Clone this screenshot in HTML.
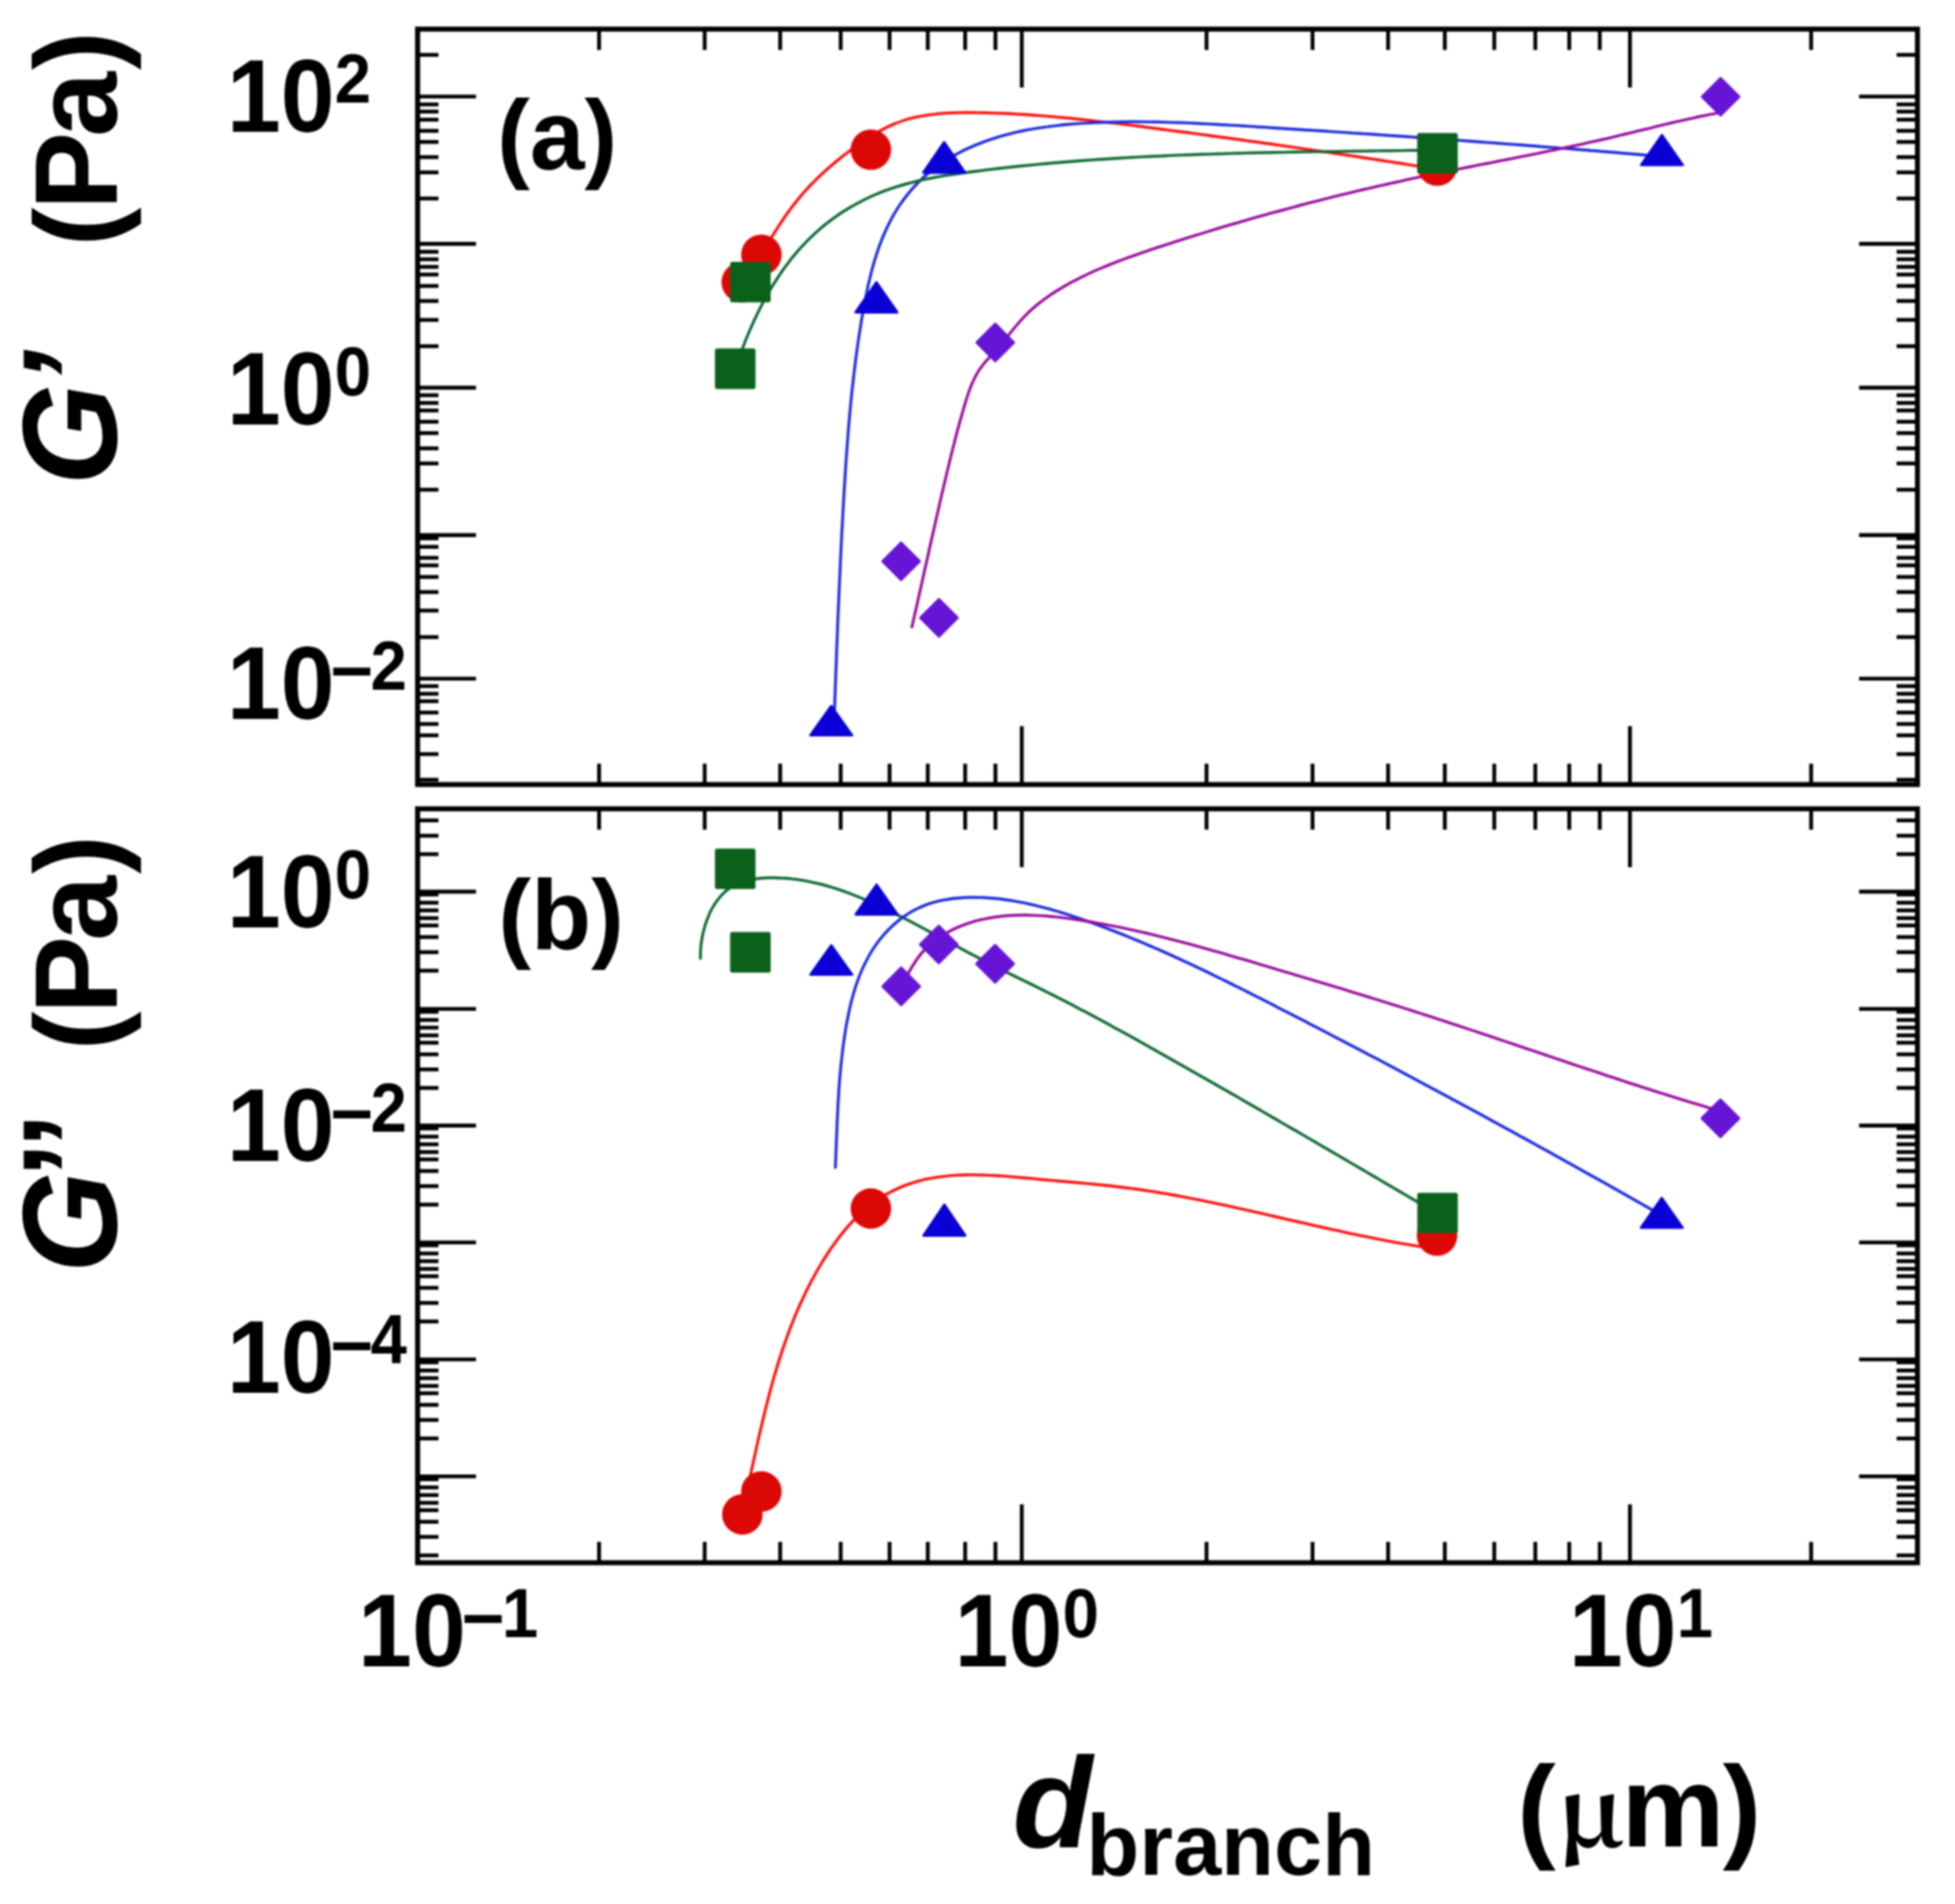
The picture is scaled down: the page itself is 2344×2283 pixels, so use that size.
<!DOCTYPE html>
<html><head><meta charset="utf-8"><title>G’ and G’’ vs d_branch</title>
<style>html,body{margin:0;padding:0;background:#fff;overflow:hidden}svg{display:block;filter:blur(0.8px)}</style></head>
<body>
<svg width="2344" height="2283" viewBox="0 0 2344 2283" role="img" aria-label="Storage and loss modulus versus branch diameter">
<rect width="2344" height="2283" fill="#fff"/>
<path d="M888.9,337.9C890.1,336.3 893.9,331.5 896.3,328.3C898.7,325.1 901.0,321.8 903.3,318.4C905.6,315.1 907.9,311.7 910.1,308.3C912.3,304.9 914.5,301.5 916.6,298.0C918.8,294.6 921.0,291.1 923.1,287.7C925.3,284.2 927.4,280.8 929.6,277.4C931.8,273.9 934.0,270.5 936.2,267.1C938.5,263.8 940.7,260.4 943.1,257.1C945.4,253.8 947.8,250.5 950.2,247.3C952.7,244.1 955.2,240.9 957.8,237.8C960.4,234.7 963.0,231.7 965.7,228.7C968.4,225.7 971.2,222.7 974.0,219.8C976.9,217.0 979.7,214.1 982.7,211.3C985.6,208.5 988.6,205.8 991.6,203.0C994.6,200.3 997.7,197.7 1000.8,195.1C1004.0,192.4 1007.1,189.9 1010.3,187.3C1013.5,184.8 1016.7,182.3 1020.0,179.8C1023.3,177.4 1026.6,175.0 1029.9,172.6C1033.3,170.3 1036.6,168.0 1040.1,165.8C1043.5,163.6 1046.9,161.4 1050.5,159.4C1054.0,157.4 1057.5,155.5 1061.1,153.7C1064.7,151.9 1068.4,150.2 1072.1,148.6C1075.8,147.1 1079.6,145.7 1083.4,144.5C1087.2,143.3 1091.1,142.2 1095.0,141.2C1099.0,140.3 1102.9,139.5 1106.9,138.8C1110.9,138.1 1114.9,137.5 1118.9,137.1C1122.9,136.6 1127.0,136.2 1131.0,135.9C1135.0,135.6 1139.1,135.4 1143.2,135.3C1147.2,135.1 1151.3,135.1 1155.4,135.0C1159.5,135.0 1163.6,135.0 1167.6,135.0C1171.7,135.1 1175.8,135.1 1179.9,135.2C1183.9,135.3 1188.0,135.4 1192.1,135.6C1196.1,135.7 1200.2,135.9 1204.3,136.0C1208.3,136.2 1212.4,136.4 1216.4,136.6C1220.5,136.8 1224.5,137.1 1228.6,137.3C1232.6,137.6 1236.7,137.9 1240.7,138.2C1244.8,138.5 1248.8,138.8 1252.9,139.1C1256.9,139.4 1260.9,139.8 1265.0,140.1C1269.0,140.5 1273.0,140.9 1277.1,141.3C1281.1,141.6 1285.1,142.0 1289.2,142.5C1293.2,142.9 1297.2,143.3 1301.3,143.7C1305.3,144.2 1309.3,144.6 1313.3,145.1C1317.4,145.5 1321.4,146.0 1325.4,146.5C1329.4,146.9 1333.5,147.4 1337.5,147.9C1341.5,148.4 1345.5,148.9 1349.6,149.4C1353.6,149.9 1357.6,150.4 1361.6,150.9C1365.6,151.4 1369.7,151.9 1373.7,152.5C1377.7,153.0 1381.7,153.5 1385.7,154.0C1389.8,154.6 1393.8,155.1 1397.8,155.6C1401.8,156.1 1405.8,156.7 1409.9,157.2C1413.9,157.7 1417.9,158.3 1421.9,158.8C1426.0,159.3 1430.0,159.9 1434.0,160.4C1438.0,160.9 1442.0,161.5 1446.1,162.0C1450.1,162.6 1454.1,163.1 1458.1,163.6C1462.1,164.2 1466.2,164.7 1470.2,165.3C1474.2,165.8 1478.2,166.4 1482.3,166.9C1486.3,167.5 1490.3,168.0 1494.3,168.6C1498.3,169.2 1502.4,169.7 1506.4,170.3C1510.4,170.8 1514.4,171.4 1518.4,172.0C1522.5,172.5 1526.5,173.1 1530.5,173.7C1534.5,174.3 1538.5,174.8 1542.6,175.4C1546.6,176.0 1550.6,176.6 1554.6,177.1C1558.6,177.7 1562.6,178.3 1566.7,178.9C1570.7,179.5 1574.7,180.1 1578.7,180.6C1582.7,181.2 1586.7,181.8 1590.7,182.4C1594.8,183.0 1598.8,183.6 1602.8,184.2C1606.8,184.8 1610.8,185.4 1614.8,186.0C1618.8,186.6 1622.9,187.2 1626.9,187.8C1630.9,188.4 1634.9,189.1 1638.9,189.7C1642.9,190.3 1646.9,190.9 1650.9,191.5C1654.9,192.1 1658.9,192.8 1662.9,193.4C1667.0,194.0 1671.0,194.6 1675.0,195.3C1679.0,195.9 1683.0,196.5 1687.0,197.2C1691.0,197.8 1695.0,198.5 1699.0,199.1C1703.0,199.7 1707.0,200.4 1711.0,201.0C1715.0,201.7 1721.0,202.7 1723.0,203.0" fill="none" stroke="#ff0a0a" stroke-width="3.4" stroke-linecap="butt" stroke-linejoin="round"/>
<path d="M1000.1,866.0C1000.2,864.0 1000.4,858.0 1000.5,853.9C1000.6,849.9 1000.8,845.9 1000.9,841.9C1001.1,837.9 1001.2,833.8 1001.4,829.8C1001.5,825.8 1001.6,821.8 1001.8,817.7C1001.9,813.7 1002.1,809.7 1002.2,805.6C1002.4,801.6 1002.5,797.6 1002.7,793.5C1002.8,789.5 1003.0,785.5 1003.1,781.4C1003.3,777.4 1003.4,773.4 1003.6,769.3C1003.7,765.3 1003.9,761.2 1004.1,757.2C1004.2,753.2 1004.4,749.1 1004.5,745.1C1004.7,741.0 1004.9,737.0 1005.0,733.0C1005.2,728.9 1005.4,724.9 1005.6,720.8C1005.7,716.8 1005.9,712.8 1006.1,708.7C1006.3,704.7 1006.4,700.6 1006.6,696.6C1006.8,692.5 1007.0,688.5 1007.2,684.5C1007.4,680.4 1007.5,676.4 1007.7,672.3C1007.9,668.3 1008.1,664.3 1008.3,660.2C1008.5,656.2 1008.7,652.1 1008.9,648.1C1009.1,644.1 1009.3,640.0 1009.5,636.0C1009.7,632.0 1010.0,627.9 1010.2,623.9C1010.4,619.9 1010.6,615.8 1010.8,611.8C1011.1,607.8 1011.3,603.7 1011.5,599.7C1011.8,595.7 1012.0,591.7 1012.2,587.6C1012.5,583.6 1012.7,579.6 1013.0,575.6C1013.2,571.6 1013.5,567.5 1013.7,563.5C1014.0,559.5 1014.2,555.5 1014.5,551.5C1014.8,547.4 1015.1,543.4 1015.4,539.4C1015.7,535.4 1016.0,531.4 1016.3,527.4C1016.6,523.4 1016.9,519.3 1017.2,515.3C1017.6,511.3 1017.9,507.3 1018.2,503.3C1018.6,499.3 1019.0,495.3 1019.3,491.3C1019.7,487.3 1020.1,483.3 1020.5,479.2C1020.9,475.2 1021.3,471.2 1021.7,467.2C1022.2,463.2 1022.6,459.2 1023.1,455.2C1023.5,451.2 1024.0,447.2 1024.5,443.2C1025.0,439.2 1025.5,435.2 1026.0,431.2C1026.5,427.2 1027.0,423.2 1027.6,419.1C1028.2,415.1 1028.7,411.1 1029.3,407.1C1029.9,403.1 1030.5,399.1 1031.2,395.1C1031.8,391.1 1032.5,387.1 1033.1,383.1C1033.8,379.1 1034.5,375.1 1035.2,371.0C1035.9,367.0 1036.7,363.0 1037.5,359.0C1038.2,355.0 1039.0,351.0 1039.9,347.1C1040.7,343.1 1041.6,339.1 1042.6,335.2C1043.5,331.2 1044.5,327.3 1045.5,323.4C1046.6,319.4 1047.7,315.6 1048.8,311.7C1050.0,307.8 1051.2,304.0 1052.5,300.2C1053.8,296.4 1055.2,292.6 1056.7,288.9C1058.1,285.2 1059.6,281.5 1061.3,277.8C1062.9,274.2 1064.6,270.6 1066.4,267.0C1068.2,263.5 1070.1,260.0 1072.1,256.5C1074.1,253.1 1076.2,249.7 1078.4,246.4C1080.7,243.0 1083.0,239.8 1085.5,236.6C1087.9,233.4 1090.5,230.2 1093.2,227.1C1095.8,224.1 1098.6,221.1 1101.5,218.2C1104.4,215.3 1107.4,212.5 1110.4,209.9C1113.5,207.2 1116.7,204.6 1119.9,202.1C1123.1,199.7 1126.5,197.3 1129.8,195.0C1133.2,192.8 1136.7,190.6 1140.2,188.6C1143.7,186.5 1147.2,184.5 1150.8,182.7C1154.4,180.8 1158.1,179.0 1161.8,177.4C1165.5,175.7 1169.2,174.1 1173.0,172.6C1176.7,171.1 1180.5,169.7 1184.3,168.3C1188.1,167.0 1191.9,165.8 1195.8,164.6C1199.6,163.4 1203.5,162.3 1207.4,161.3C1211.3,160.3 1215.2,159.3 1219.1,158.4C1223.0,157.5 1227.0,156.7 1230.9,155.9C1234.9,155.2 1238.8,154.5 1242.8,153.8C1246.8,153.2 1250.8,152.6 1254.8,152.1C1258.8,151.5 1262.8,151.0 1266.8,150.6C1270.8,150.1 1274.8,149.7 1278.8,149.3C1282.9,149.0 1286.9,148.7 1290.9,148.4C1294.9,148.1 1299.0,147.8 1303.0,147.6C1307.1,147.3 1311.1,147.1 1315.1,147.0C1319.2,146.8 1323.2,146.6 1327.2,146.5C1331.3,146.4 1335.3,146.3 1339.3,146.2C1343.4,146.1 1347.4,146.1 1351.4,146.0C1355.5,146.0 1359.5,146.0 1363.5,146.0C1367.6,146.0 1371.6,146.0 1375.6,146.1C1379.7,146.1 1383.7,146.2 1387.8,146.3C1391.8,146.4 1395.8,146.5 1399.9,146.6C1403.9,146.7 1407.9,146.8 1412.0,147.0C1416.0,147.1 1420.0,147.3 1424.1,147.4C1428.1,147.6 1432.1,147.8 1436.2,148.0C1440.2,148.2 1444.2,148.4 1448.3,148.6C1452.3,148.8 1456.3,149.0 1460.4,149.2C1464.4,149.5 1468.5,149.7 1472.5,149.9C1476.5,150.2 1480.6,150.4 1484.6,150.6C1488.6,150.9 1492.7,151.1 1496.7,151.4C1500.7,151.6 1504.8,151.9 1508.8,152.2C1512.8,152.4 1516.9,152.7 1520.9,152.9C1524.9,153.2 1528.9,153.4 1533.0,153.7C1537.0,153.9 1541.0,154.2 1545.1,154.5C1549.1,154.7 1553.1,155.0 1557.2,155.2C1561.2,155.5 1565.2,155.8 1569.3,156.0C1573.3,156.3 1577.3,156.5 1581.3,156.8C1585.4,157.1 1589.4,157.3 1593.4,157.6C1597.5,157.9 1601.5,158.1 1605.5,158.4C1609.6,158.7 1613.6,158.9 1617.6,159.2C1621.6,159.5 1625.7,159.7 1629.7,160.0C1633.7,160.3 1637.8,160.5 1641.8,160.8C1645.8,161.1 1649.8,161.4 1653.9,161.6C1657.9,161.9 1661.9,162.2 1665.9,162.5C1670.0,162.7 1674.0,163.0 1678.0,163.3C1682.1,163.6 1686.1,163.8 1690.1,164.1C1694.1,164.4 1698.2,164.7 1702.2,165.0C1706.2,165.3 1710.2,165.5 1714.3,165.8C1718.3,166.1 1722.3,166.4 1726.3,166.7C1730.4,167.0 1734.4,167.2 1738.4,167.5C1742.4,167.8 1746.5,168.1 1750.5,168.4C1754.5,168.7 1758.5,169.0 1762.6,169.3C1766.6,169.6 1770.6,169.9 1774.6,170.2C1778.7,170.5 1782.7,170.8 1786.7,171.1C1790.7,171.4 1794.8,171.7 1798.8,172.0C1802.8,172.3 1806.8,172.6 1810.9,172.9C1814.9,173.2 1818.9,173.5 1822.9,173.8C1827.0,174.1 1831.0,174.4 1835.0,174.7C1839.0,175.0 1843.1,175.3 1847.1,175.7C1851.1,176.0 1855.1,176.3 1859.2,176.6C1863.2,176.9 1867.2,177.2 1871.2,177.6C1875.3,177.9 1879.3,178.2 1883.3,178.5C1887.3,178.8 1891.4,179.2 1895.4,179.5C1899.4,179.8 1903.4,180.1 1907.5,180.5C1911.5,180.8 1915.5,181.1 1919.5,181.5C1923.6,181.8 1927.6,182.1 1931.6,182.5C1935.6,182.8 1939.7,183.1 1943.7,183.5C1947.7,183.8 1951.7,184.2 1955.8,184.5C1959.8,184.8 1963.8,185.2 1967.8,185.5C1971.9,185.9 1975.9,186.2 1979.9,186.6C1984.0,186.9 1990.0,187.5 1992.0,187.6" fill="none" stroke="#1a28dc" stroke-width="3.4" stroke-linecap="butt" stroke-linejoin="round"/>
<path d="M881.9,441.9C882.5,440.0 884.3,434.4 885.6,430.7C886.9,426.9 888.3,423.1 889.7,419.4C891.1,415.6 892.5,411.8 894.0,408.0C895.5,404.3 897.1,400.5 898.7,396.7C900.3,393.0 902.0,389.2 903.7,385.5C905.4,381.7 907.2,378.0 909.0,374.3C910.8,370.6 912.7,366.9 914.6,363.3C916.6,359.6 918.6,356.0 920.6,352.4C922.7,348.8 924.8,345.2 926.9,341.7C929.1,338.2 931.4,334.7 933.6,331.3C935.9,327.8 938.3,324.4 940.7,321.1C943.1,317.8 945.6,314.5 948.1,311.2C950.7,308.0 953.3,304.8 956.0,301.7C958.6,298.6 961.4,295.6 964.2,292.6C967.0,289.6 969.8,286.7 972.8,283.9C975.7,281.1 978.7,278.3 981.8,275.7C984.8,273.0 987.9,270.4 991.1,267.9C994.3,265.4 997.6,263.0 1000.9,260.6C1004.2,258.3 1007.5,256.0 1010.9,253.8C1014.3,251.6 1017.8,249.5 1021.3,247.5C1024.8,245.5 1028.4,243.5 1032.0,241.7C1035.6,239.8 1039.2,238.0 1042.9,236.3C1046.5,234.6 1050.3,233.0 1054.0,231.5C1057.8,230.0 1061.5,228.5 1065.4,227.2C1069.2,225.8 1073.0,224.6 1076.9,223.4C1080.8,222.2 1084.7,221.1 1088.6,220.0C1092.5,218.9 1096.4,218.0 1100.4,217.0C1104.4,216.1 1108.4,215.3 1112.4,214.4C1116.4,213.6 1120.4,212.9 1124.4,212.1C1128.4,211.4 1132.5,210.7 1136.5,210.1C1140.6,209.4 1144.6,208.8 1148.7,208.2C1152.8,207.6 1156.8,207.1 1160.9,206.5C1165.0,206.0 1169.1,205.5 1173.1,205.0C1177.2,204.4 1181.3,203.9 1185.4,203.4C1189.4,202.9 1193.5,202.5 1197.6,202.0C1201.7,201.5 1205.7,201.1 1209.8,200.6C1213.9,200.2 1218.0,199.7 1222.0,199.3C1226.1,198.9 1230.2,198.5 1234.2,198.1C1238.3,197.7 1242.4,197.3 1246.5,196.9C1250.5,196.5 1254.6,196.1 1258.7,195.8C1262.7,195.4 1266.8,195.1 1270.9,194.7C1275.0,194.4 1279.0,194.0 1283.1,193.7C1287.2,193.4 1291.2,193.1 1295.3,192.8C1299.4,192.5 1303.5,192.2 1307.5,191.9C1311.6,191.6 1315.7,191.3 1319.8,191.0C1323.8,190.8 1327.9,190.5 1332.0,190.2C1336.0,190.0 1340.1,189.7 1344.2,189.5C1348.3,189.3 1352.3,189.0 1356.4,188.8C1360.5,188.6 1364.5,188.4 1368.6,188.1C1372.7,187.9 1376.8,187.7 1380.8,187.5C1384.9,187.3 1389.0,187.1 1393.0,187.0C1397.1,186.8 1401.2,186.6 1405.3,186.4C1409.3,186.2 1413.4,186.1 1417.5,185.9C1421.6,185.8 1425.6,185.6 1429.7,185.5C1433.8,185.3 1437.8,185.2 1441.9,185.0C1446.0,184.9 1450.1,184.8 1454.1,184.6C1458.2,184.5 1462.3,184.4 1466.4,184.3C1470.4,184.1 1474.5,184.0 1478.6,183.9C1482.7,183.8 1486.7,183.7 1490.8,183.6C1494.9,183.5 1499.0,183.4 1503.0,183.3C1507.1,183.2 1511.2,183.1 1515.3,183.0C1519.4,183.0 1523.4,182.9 1527.5,182.8C1531.6,182.7 1535.7,182.6 1539.7,182.6C1543.8,182.5 1547.9,182.4 1552.0,182.3C1556.1,182.3 1560.1,182.2 1564.2,182.1C1568.3,182.1 1572.4,182.0 1576.5,181.9C1580.5,181.9 1584.6,181.8 1588.7,181.8C1592.8,181.7 1596.9,181.6 1600.9,181.6C1605.0,181.5 1609.1,181.5 1613.2,181.4C1617.3,181.4 1621.4,181.3 1625.4,181.3C1629.5,181.2 1633.6,181.1 1637.7,181.1C1641.8,181.0 1645.9,181.0 1650.0,180.9C1654.0,180.9 1658.1,180.8 1662.2,180.8C1666.3,180.7 1670.4,180.7 1674.5,180.6C1678.6,180.6 1682.7,180.5 1686.8,180.4C1690.8,180.4 1694.9,180.3 1699.0,180.3C1703.1,180.2 1707.2,180.2 1711.3,180.1C1715.4,180.0 1721.5,179.9 1723.6,179.9" fill="none" stroke="#0a6830" stroke-width="3.4" stroke-linecap="butt" stroke-linejoin="round"/>
<path d="M1093.1,753.1C1093.5,751.1 1094.9,745.2 1095.8,741.2C1096.7,737.3 1097.6,733.3 1098.5,729.3C1099.4,725.4 1100.2,721.4 1101.1,717.4C1102.0,713.5 1102.9,709.5 1103.8,705.5C1104.7,701.6 1105.6,697.6 1106.5,693.6C1107.3,689.7 1108.2,685.7 1109.1,681.7C1110.0,677.7 1110.9,673.8 1111.8,669.8C1112.6,665.8 1113.5,661.9 1114.4,657.9C1115.3,653.9 1116.2,649.9 1117.1,646.0C1118.0,642.0 1118.9,638.0 1119.8,634.1C1120.7,630.1 1121.6,626.1 1122.5,622.2C1123.4,618.2 1124.3,614.2 1125.2,610.3C1126.1,606.3 1127.0,602.3 1127.9,598.4C1128.8,594.4 1129.7,590.5 1130.7,586.5C1131.6,582.5 1132.5,578.6 1133.5,574.6C1134.4,570.7 1135.4,566.7 1136.3,562.8C1137.3,558.8 1138.2,554.9 1139.2,551.0C1140.1,547.0 1141.1,543.1 1142.1,539.1C1143.1,535.2 1144.1,531.3 1145.1,527.3C1146.1,523.4 1147.1,519.5 1148.2,515.5C1149.2,511.6 1150.3,507.7 1151.4,503.7C1152.5,499.8 1153.6,495.9 1154.8,491.9C1155.9,488.0 1157.0,484.0 1158.3,480.1C1159.5,476.2 1160.7,472.3 1162.1,468.5C1163.5,464.6 1165.0,460.8 1166.7,457.2C1168.4,453.5 1170.2,449.9 1172.2,446.5C1174.3,443.1 1176.6,439.8 1179.1,436.7C1181.6,433.5 1184.4,430.6 1187.1,427.6C1189.8,424.6 1192.7,421.7 1195.4,418.6C1198.2,415.5 1200.8,412.4 1203.4,409.2C1206.0,406.0 1208.5,402.7 1211.1,399.5C1213.7,396.3 1216.2,393.1 1218.9,390.0C1221.5,386.9 1224.2,383.8 1227.0,380.8C1229.8,377.9 1232.7,375.0 1235.6,372.3C1238.6,369.6 1241.7,367.0 1244.8,364.4C1248.0,361.9 1251.2,359.4 1254.5,357.1C1257.8,354.7 1261.1,352.5 1264.5,350.3C1267.9,348.1 1271.4,346.0 1274.9,344.0C1278.4,341.9 1281.9,339.9 1285.5,338.0C1289.1,336.1 1292.7,334.3 1296.3,332.5C1300.0,330.7 1303.6,328.9 1307.3,327.2C1311.0,325.5 1314.7,323.9 1318.4,322.3C1322.2,320.7 1325.9,319.1 1329.7,317.6C1333.5,316.1 1337.3,314.6 1341.1,313.1C1344.9,311.7 1348.7,310.3 1352.5,308.9C1356.3,307.5 1360.2,306.1 1364.0,304.8C1367.9,303.4 1371.7,302.1 1375.6,300.8C1379.5,299.5 1383.4,298.2 1387.2,296.9C1391.1,295.7 1395.0,294.4 1398.9,293.2C1402.7,291.9 1406.6,290.7 1410.5,289.4C1414.4,288.2 1418.3,286.9 1422.2,285.7C1426.1,284.5 1429.9,283.3 1433.8,282.1C1437.7,280.9 1441.6,279.7 1445.5,278.5C1449.4,277.3 1453.3,276.1 1457.2,274.9C1461.1,273.8 1465.0,272.6 1468.9,271.4C1472.8,270.3 1476.7,269.1 1480.6,268.0C1484.5,266.8 1488.4,265.7 1492.3,264.6C1496.2,263.5 1500.1,262.3 1504.0,261.2C1508.0,260.1 1511.9,259.0 1515.8,257.9C1519.7,256.8 1523.6,255.7 1527.5,254.7C1531.4,253.6 1535.4,252.5 1539.3,251.5C1543.2,250.4 1547.1,249.3 1551.1,248.3C1555.0,247.3 1558.9,246.2 1562.8,245.2C1566.8,244.2 1570.7,243.1 1574.6,242.1C1578.6,241.1 1582.5,240.1 1586.4,239.1C1590.4,238.1 1594.3,237.1 1598.2,236.1C1602.2,235.2 1606.1,234.2 1610.1,233.2C1614.0,232.3 1618.0,231.3 1621.9,230.4C1625.9,229.4 1629.8,228.5 1633.8,227.5C1637.7,226.6 1641.7,225.7 1645.6,224.8C1649.6,223.9 1653.5,223.0 1657.5,222.1C1661.5,221.2 1665.4,220.3 1669.4,219.4C1673.4,218.5 1677.3,217.6 1681.3,216.8C1685.3,215.9 1689.3,215.0 1693.2,214.2C1697.2,213.3 1701.2,212.5 1705.2,211.7C1709.1,210.8 1713.1,210.0 1717.1,209.2C1721.1,208.4 1725.1,207.5 1729.1,206.7C1733.0,205.9 1737.0,205.1 1741.0,204.3C1745.0,203.5 1749.0,202.7 1753.0,201.9C1757.0,201.1 1761.0,200.3 1765.0,199.5C1769.0,198.7 1772.9,197.9 1776.9,197.2C1780.9,196.4 1784.9,195.6 1788.9,194.8C1792.9,194.0 1796.9,193.2 1800.9,192.4C1804.9,191.6 1808.9,190.9 1812.9,190.1C1816.9,189.3 1820.9,188.5 1824.9,187.7C1828.8,186.9 1832.8,186.1 1836.8,185.3C1840.8,184.5 1844.8,183.7 1848.8,182.9C1852.8,182.0 1856.8,181.2 1860.8,180.4C1864.7,179.6 1868.7,178.8 1872.7,177.9C1876.7,177.1 1880.7,176.2 1884.6,175.4C1888.6,174.5 1892.6,173.7 1896.6,172.8C1900.5,172.0 1904.5,171.1 1908.5,170.2C1912.5,169.3 1916.4,168.4 1920.4,167.5C1924.3,166.6 1928.3,165.7 1932.3,164.8C1936.2,163.8 1940.2,162.9 1944.1,161.9C1948.1,161.0 1952.0,160.0 1956.0,159.1C1959.9,158.1 1963.9,157.1 1967.8,156.2C1971.8,155.2 1975.7,154.2 1979.7,153.3C1983.6,152.3 1987.6,151.3 1991.5,150.4C1995.5,149.4 1999.4,148.5 2003.4,147.5C2007.3,146.6 2011.3,145.7 2015.2,144.8C2019.2,143.9 2023.2,143.0 2027.1,142.1C2031.1,141.2 2035.1,140.3 2039.1,139.5C2043.1,138.7 2047.0,137.9 2051.0,137.1C2055.0,136.3 2061.1,135.2 2063.1,134.8" fill="none" stroke="#990a9c" stroke-width="3.4" stroke-linecap="butt" stroke-linejoin="round"/>
<circle cx="889.4" cy="338.4" r="24.3" fill="#dc0806"/>
<circle cx="912.9" cy="305.5" r="24.3" fill="#dc0806"/>
<circle cx="1044.2" cy="179.5" r="24.3" fill="#dc0806"/>
<circle cx="1723.3" cy="198.5" r="24.3" fill="#dc0806"/>
<rect x="857.2" y="417.8" width="48.6" height="48.6" rx="2.5" fill="#0a611a"/>
<rect x="875.4" y="313.9" width="48.6" height="48.6" rx="2.5" fill="#0a611a"/>
<rect x="1699.2" y="159.5" width="48.6" height="48.6" rx="2.5" fill="#0a611a"/>
<path d="M1132.0,170.6 L1156.9,206.9 L1107.1,206.9 Z" fill="#0a00d6" stroke="#0a00d6" stroke-width="3" stroke-linejoin="round"/>
<path d="M1050.8,338.6 L1075.7,374.4 L1025.9,374.4 Z" fill="#0a00d6" stroke="#0a00d6" stroke-width="3" stroke-linejoin="round"/>
<path d="M996.6,846.6 L1021.5,881.6 L971.7,881.6 Z" fill="#0a00d6" stroke="#0a00d6" stroke-width="3" stroke-linejoin="round"/>
<path d="M1992.6,162.1 L2017.5,197.8 L1967.7,197.8 Z" fill="#0a00d6" stroke="#0a00d6" stroke-width="3" stroke-linejoin="round"/>
<path d="M1193.3,388.4 L1215.6,410.7 L1193.3,433.0 L1171.0,410.7 Z" fill="#6614d6" stroke="#6614d6" stroke-width="3" stroke-linejoin="round"/>
<path d="M1080.4,650.7 L1102.7,673 L1080.4,695.3 L1058.1000000000001,673 Z" fill="#6614d6" stroke="#6614d6" stroke-width="3" stroke-linejoin="round"/>
<path d="M1125.8,718.5 L1148.1,740.8 L1125.8,763.0999999999999 L1103.5,740.8 Z" fill="#6614d6" stroke="#6614d6" stroke-width="3" stroke-linejoin="round"/>
<path d="M2063,93.7 L2085.3,116 L2063,138.3 L2040.7,116 Z" fill="#6614d6" stroke="#6614d6" stroke-width="3" stroke-linejoin="round"/>
<path d="M889.2,1815.7C889.7,1813.8 891.0,1807.9 891.9,1804.0C892.8,1800.1 893.7,1796.1 894.6,1792.2C895.4,1788.3 896.3,1784.3 897.2,1780.4C898.1,1776.4 898.9,1772.5 899.8,1768.5C900.7,1764.6 901.5,1760.6 902.4,1756.7C903.3,1752.8 904.1,1748.8 905.0,1744.9C905.9,1740.9 906.7,1737.0 907.6,1733.0C908.5,1729.1 909.4,1725.1 910.3,1721.2C911.2,1717.2 912.1,1713.3 913.1,1709.3C914.0,1705.4 914.9,1701.5 915.9,1697.5C916.8,1693.6 917.8,1689.7 918.8,1685.8C919.8,1681.8 920.8,1677.9 921.8,1674.0C922.8,1670.1 923.9,1666.2 925.0,1662.3C926.0,1658.4 927.1,1654.5 928.2,1650.6C929.4,1646.7 930.5,1642.9 931.7,1639.0C932.8,1635.1 934.0,1631.3 935.3,1627.4C936.5,1623.6 937.8,1619.7 939.1,1615.9C940.4,1612.1 941.7,1608.3 943.1,1604.5C944.4,1600.7 945.8,1596.9 947.3,1593.1C948.7,1589.3 950.2,1585.5 951.7,1581.8C953.2,1578.0 954.8,1574.3 956.4,1570.6C958.0,1566.9 959.7,1563.2 961.4,1559.5C963.1,1555.8 964.8,1552.1 966.6,1548.4C968.4,1544.8 970.2,1541.1 972.1,1537.5C974.0,1533.9 976.0,1530.3 978.0,1526.7C980.0,1523.1 982.1,1519.5 984.2,1516.0C986.3,1512.4 988.5,1508.9 990.7,1505.5C992.9,1502.0 995.2,1498.6 997.6,1495.2C999.9,1491.8 1002.3,1488.5 1004.8,1485.2C1007.3,1482.0 1009.8,1478.8 1012.4,1475.6C1015.0,1472.5 1017.7,1469.4 1020.4,1466.5C1023.2,1463.5 1026.0,1460.6 1028.8,1457.8C1031.7,1455.1 1034.7,1452.4 1037.7,1449.8C1040.7,1447.2 1043.8,1444.7 1047.0,1442.4C1050.1,1440.0 1053.4,1437.8 1056.7,1435.6C1060.0,1433.5 1063.4,1431.6 1066.9,1429.7C1070.3,1427.9 1073.9,1426.2 1077.5,1424.6C1081.1,1423.0 1084.8,1421.5 1088.5,1420.2C1092.2,1418.9 1096.0,1417.7 1099.8,1416.6C1103.6,1415.5 1107.5,1414.6 1111.4,1413.7C1115.3,1412.9 1119.2,1412.2 1123.2,1411.6C1127.1,1411.0 1131.1,1410.5 1135.1,1410.1C1139.1,1409.6 1143.1,1409.3 1147.2,1409.1C1151.2,1408.9 1155.3,1408.8 1159.4,1408.7C1163.5,1408.6 1167.6,1408.6 1171.7,1408.7C1175.8,1408.7 1179.9,1408.9 1184.0,1409.1C1188.1,1409.2 1192.3,1409.5 1196.4,1409.7C1200.5,1410.0 1204.7,1410.3 1208.8,1410.6C1212.9,1410.9 1217.1,1411.3 1221.2,1411.7C1225.3,1412.0 1229.5,1412.4 1233.6,1412.8C1237.7,1413.2 1241.8,1413.6 1245.9,1414.0C1250.0,1414.3 1254.1,1414.7 1258.1,1415.1C1262.2,1415.5 1266.2,1415.8 1270.3,1416.2C1274.3,1416.5 1278.4,1416.9 1282.4,1417.2C1286.4,1417.6 1290.4,1417.9 1294.4,1418.3C1298.4,1418.7 1302.4,1419.0 1306.4,1419.4C1310.4,1419.8 1314.4,1420.2 1318.4,1420.6C1322.4,1421.0 1326.3,1421.4 1330.3,1421.8C1334.3,1422.3 1338.3,1422.7 1342.2,1423.2C1346.2,1423.7 1350.2,1424.2 1354.1,1424.7C1358.1,1425.2 1362.1,1425.8 1366.0,1426.3C1370.0,1426.9 1374.0,1427.5 1377.9,1428.1C1381.9,1428.7 1385.9,1429.3 1389.8,1430.0C1393.8,1430.7 1397.8,1431.3 1401.7,1432.0C1405.7,1432.7 1409.7,1433.4 1413.6,1434.2C1417.6,1434.9 1421.5,1435.6 1425.5,1436.4C1429.5,1437.2 1433.4,1437.9 1437.4,1438.7C1441.4,1439.5 1445.3,1440.3 1449.3,1441.1C1453.3,1441.9 1457.2,1442.8 1461.2,1443.6C1465.2,1444.5 1469.1,1445.3 1473.1,1446.2C1477.0,1447.0 1481.0,1447.9 1485.0,1448.8C1488.9,1449.6 1492.9,1450.5 1496.9,1451.4C1500.8,1452.3 1504.8,1453.2 1508.8,1454.1C1512.7,1455.0 1516.7,1455.9 1520.6,1456.8C1524.6,1457.7 1528.6,1458.6 1532.5,1459.5C1536.5,1460.4 1540.5,1461.4 1544.4,1462.3C1548.4,1463.2 1552.4,1464.1 1556.3,1465.0C1560.3,1465.9 1564.2,1466.8 1568.2,1467.7C1572.2,1468.6 1576.1,1469.5 1580.1,1470.4C1584.1,1471.3 1588.0,1472.2 1592.0,1473.1C1596.0,1474.0 1599.9,1474.8 1603.9,1475.7C1607.8,1476.6 1611.8,1477.4 1615.8,1478.3C1619.7,1479.1 1623.7,1480.0 1627.7,1480.8C1631.6,1481.6 1635.6,1482.4 1639.6,1483.2C1643.5,1484.0 1647.5,1484.8 1651.5,1485.6C1655.4,1486.4 1659.4,1487.2 1663.4,1487.9C1667.3,1488.6 1671.3,1489.4 1675.3,1490.1C1679.2,1490.8 1683.2,1491.5 1687.2,1492.2C1691.1,1492.8 1695.1,1493.5 1699.1,1494.1C1703.0,1494.8 1707.0,1495.4 1711.0,1496.0C1714.9,1496.6 1720.9,1497.4 1722.9,1497.7" fill="none" stroke="#ff0a0a" stroke-width="3.4" stroke-linecap="butt" stroke-linejoin="round"/>
<path d="M839.8,1150.6C839.8,1148.7 839.8,1142.8 840.0,1138.7C840.3,1134.7 840.8,1130.5 841.5,1126.3C842.2,1122.2 843.1,1118.0 844.2,1113.9C845.2,1109.8 846.5,1105.7 848.1,1101.8C849.6,1097.8 851.3,1093.9 853.2,1090.3C855.2,1086.7 857.3,1083.1 859.7,1079.9C862.1,1076.7 864.6,1073.6 867.5,1070.9C870.3,1068.2 873.3,1065.8 876.5,1063.8C879.8,1061.7 883.3,1060.0 886.9,1058.6C890.5,1057.2 894.3,1056.1 898.2,1055.2C902.1,1054.3 906.1,1053.7 910.2,1053.2C914.2,1052.8 918.4,1052.6 922.5,1052.5C926.6,1052.4 930.8,1052.5 934.9,1052.7C939.0,1052.8 943.1,1053.1 947.2,1053.5C951.2,1054.0 955.3,1054.5 959.3,1055.1C963.3,1055.7 967.3,1056.4 971.3,1057.3C975.3,1058.1 979.2,1059.0 983.2,1060.0C987.1,1061.0 991.0,1062.1 994.9,1063.2C998.8,1064.4 1002.7,1065.6 1006.6,1066.9C1010.4,1068.2 1014.3,1069.6 1018.1,1071.0C1021.9,1072.5 1025.7,1074.0 1029.5,1075.5C1033.3,1077.0 1037.0,1078.6 1040.8,1080.3C1044.5,1081.9 1048.2,1083.6 1051.9,1085.3C1055.6,1087.0 1059.3,1088.8 1063.0,1090.6C1066.7,1092.3 1070.4,1094.1 1074.0,1096.0C1077.6,1097.8 1081.3,1099.6 1084.9,1101.5C1088.5,1103.3 1092.1,1105.2 1095.7,1107.1C1099.3,1109.0 1102.9,1110.9 1106.4,1112.8C1110.0,1114.6 1113.6,1116.6 1117.1,1118.5C1120.7,1120.4 1124.2,1122.3 1127.8,1124.2C1131.3,1126.1 1134.9,1128.0 1138.4,1130.0C1142.0,1131.9 1145.5,1133.8 1149.1,1135.7C1152.6,1137.6 1156.2,1139.5 1159.7,1141.4C1163.3,1143.3 1166.8,1145.2 1170.4,1147.1C1174.0,1149.0 1177.6,1150.9 1181.1,1152.7C1184.7,1154.6 1188.3,1156.4 1191.9,1158.3C1195.6,1160.1 1199.2,1161.9 1202.8,1163.7C1206.5,1165.6 1210.1,1167.4 1213.8,1169.1C1217.4,1170.9 1221.1,1172.7 1224.8,1174.5C1228.4,1176.3 1232.1,1178.1 1235.8,1179.9C1239.4,1181.7 1243.1,1183.5 1246.7,1185.3C1250.4,1187.1 1254.0,1188.9 1257.7,1190.7C1261.3,1192.5 1264.9,1194.4 1268.6,1196.2C1272.2,1198.1 1275.8,1199.9 1279.4,1201.8C1283.0,1203.7 1286.6,1205.5 1290.2,1207.4C1293.8,1209.3 1297.4,1211.2 1301.0,1213.1C1304.6,1215.0 1308.2,1216.9 1311.7,1218.8C1315.3,1220.7 1318.9,1222.7 1322.4,1224.6C1326.0,1226.5 1329.6,1228.5 1333.1,1230.4C1336.7,1232.3 1340.3,1234.3 1343.8,1236.2C1347.4,1238.2 1350.9,1240.2 1354.4,1242.1C1358.0,1244.1 1361.5,1246.0 1365.1,1248.0C1368.6,1250.0 1372.2,1252.0 1375.7,1253.9C1379.2,1255.9 1382.8,1257.9 1386.3,1259.9C1389.8,1261.9 1393.4,1263.9 1396.9,1265.9C1400.4,1267.9 1403.9,1269.9 1407.5,1271.9C1411.0,1273.9 1414.5,1275.9 1418.1,1277.9C1421.6,1279.9 1425.1,1281.9 1428.6,1283.9C1432.2,1285.9 1435.7,1287.9 1439.2,1289.9C1442.7,1291.9 1446.2,1293.9 1449.8,1295.9C1453.3,1297.9 1456.8,1300.0 1460.3,1302.0C1463.9,1304.0 1467.4,1306.0 1470.9,1308.0C1474.4,1310.1 1477.9,1312.1 1481.5,1314.1C1485.0,1316.1 1488.5,1318.2 1492.0,1320.2C1495.5,1322.2 1499.0,1324.2 1502.6,1326.3C1506.1,1328.3 1509.6,1330.3 1513.1,1332.4C1516.6,1334.4 1520.1,1336.4 1523.7,1338.5C1527.2,1340.5 1530.7,1342.5 1534.2,1344.6C1537.7,1346.6 1541.2,1348.6 1544.7,1350.7C1548.2,1352.7 1551.8,1354.8 1555.3,1356.8C1558.8,1358.8 1562.3,1360.9 1565.8,1362.9C1569.3,1365.0 1572.8,1367.0 1576.3,1369.0C1579.8,1371.1 1583.3,1373.1 1586.8,1375.2C1590.4,1377.2 1593.9,1379.3 1597.4,1381.3C1600.9,1383.4 1604.4,1385.4 1607.9,1387.5C1611.4,1389.5 1614.9,1391.6 1618.4,1393.6C1621.9,1395.7 1625.4,1397.7 1628.9,1399.7C1632.4,1401.8 1635.9,1403.8 1639.4,1405.9C1642.9,1407.9 1646.4,1410.0 1649.9,1412.0C1653.4,1414.1 1656.9,1416.1 1660.4,1418.2C1663.9,1420.2 1667.4,1422.3 1670.9,1424.4C1674.4,1426.4 1677.9,1428.5 1681.4,1430.5C1684.9,1432.6 1688.4,1434.6 1691.9,1436.7C1695.4,1438.7 1698.9,1440.8 1702.4,1442.8C1705.9,1444.9 1709.4,1446.9 1712.9,1448.9C1716.4,1451.0 1721.7,1454.1 1723.4,1455.1" fill="none" stroke="#0a6830" stroke-width="3.4" stroke-linecap="butt" stroke-linejoin="round"/>
<path d="M1001.6,1401.2C1001.6,1399.1 1001.9,1392.9 1002.1,1388.8C1002.2,1384.7 1002.4,1380.6 1002.5,1376.6C1002.7,1372.5 1002.8,1368.4 1003.0,1364.4C1003.2,1360.3 1003.3,1356.3 1003.5,1352.3C1003.6,1348.2 1003.8,1344.2 1004.0,1340.2C1004.2,1336.2 1004.4,1332.2 1004.6,1328.2C1004.8,1324.2 1005.0,1320.2 1005.3,1316.2C1005.5,1312.2 1005.8,1308.2 1006.0,1304.2C1006.3,1300.2 1006.6,1296.3 1006.9,1292.3C1007.3,1288.3 1007.6,1284.3 1008.0,1280.3C1008.4,1276.3 1008.8,1272.2 1009.3,1268.2C1009.7,1264.2 1010.2,1260.2 1010.7,1256.2C1011.2,1252.1 1011.8,1248.1 1012.4,1244.0C1013.0,1240.0 1013.6,1235.9 1014.3,1231.8C1015.0,1227.7 1015.8,1223.7 1016.6,1219.6C1017.4,1215.5 1018.2,1211.5 1019.2,1207.4C1020.1,1203.4 1021.1,1199.4 1022.2,1195.4C1023.3,1191.4 1024.5,1187.4 1025.7,1183.5C1027.0,1179.6 1028.4,1175.7 1029.8,1171.9C1031.3,1168.1 1032.8,1164.3 1034.5,1160.6C1036.2,1156.9 1038.0,1153.3 1039.9,1149.7C1041.8,1146.1 1043.8,1142.6 1046.0,1139.2C1048.1,1135.8 1050.4,1132.5 1052.8,1129.3C1055.3,1126.1 1057.8,1122.9 1060.5,1119.9C1063.2,1116.9 1065.9,1114.0 1068.8,1111.3C1071.7,1108.5 1074.8,1105.9 1077.9,1103.4C1081.0,1100.9 1084.2,1098.6 1087.6,1096.4C1090.9,1094.3 1094.3,1092.3 1097.8,1090.5C1101.3,1088.7 1104.9,1087.1 1108.6,1085.6C1112.3,1084.2 1116.1,1082.9 1119.9,1081.9C1123.7,1080.8 1127.6,1079.9 1131.6,1079.1C1135.5,1078.3 1139.5,1077.7 1143.6,1077.2C1147.6,1076.8 1151.7,1076.4 1155.8,1076.2C1159.9,1076.0 1164.0,1075.9 1168.1,1075.9C1172.3,1076.0 1176.4,1076.1 1180.5,1076.3C1184.7,1076.5 1188.8,1076.9 1192.9,1077.3C1197.0,1077.7 1201.1,1078.2 1205.1,1078.7C1209.2,1079.3 1213.2,1079.9 1217.3,1080.6C1221.3,1081.3 1225.3,1082.1 1229.3,1082.9C1233.3,1083.8 1237.2,1084.7 1241.2,1085.6C1245.2,1086.5 1249.1,1087.5 1253.0,1088.6C1256.9,1089.6 1260.8,1090.7 1264.7,1091.9C1268.6,1093.0 1272.5,1094.2 1276.4,1095.4C1280.3,1096.6 1284.1,1097.9 1288.0,1099.2C1291.8,1100.5 1295.7,1101.8 1299.5,1103.1C1303.3,1104.4 1307.1,1105.8 1310.9,1107.2C1314.7,1108.5 1318.6,1109.9 1322.3,1111.4C1326.1,1112.8 1329.9,1114.2 1333.7,1115.7C1337.5,1117.1 1341.2,1118.6 1345.0,1120.1C1348.8,1121.6 1352.5,1123.1 1356.3,1124.7C1360.0,1126.2 1363.7,1127.8 1367.5,1129.3C1371.2,1130.9 1374.9,1132.5 1378.7,1134.1C1382.4,1135.7 1386.1,1137.3 1389.8,1138.9C1393.5,1140.6 1397.2,1142.2 1400.9,1143.9C1404.6,1145.5 1408.3,1147.2 1412.0,1148.9C1415.6,1150.6 1419.3,1152.3 1423.0,1154.0C1426.7,1155.7 1430.3,1157.4 1434.0,1159.1C1437.7,1160.9 1441.3,1162.6 1445.0,1164.4C1448.6,1166.1 1452.3,1167.9 1455.9,1169.7C1459.6,1171.4 1463.2,1173.2 1466.8,1175.0C1470.5,1176.8 1474.1,1178.6 1477.7,1180.4C1481.4,1182.2 1485.0,1184.0 1488.6,1185.8C1492.3,1187.6 1495.9,1189.5 1499.5,1191.3C1503.1,1193.1 1506.7,1195.0 1510.4,1196.8C1514.0,1198.6 1517.6,1200.5 1521.2,1202.3C1524.8,1204.2 1528.4,1206.0 1532.0,1207.9C1535.6,1209.7 1539.3,1211.6 1542.9,1213.4C1546.5,1215.3 1550.1,1217.1 1553.7,1219.0C1557.3,1220.9 1560.9,1222.7 1564.5,1224.6C1568.1,1226.5 1571.7,1228.3 1575.3,1230.2C1578.9,1232.0 1582.5,1233.9 1586.1,1235.8C1589.7,1237.7 1593.3,1239.5 1596.9,1241.4C1600.5,1243.3 1604.1,1245.2 1607.7,1247.0C1611.3,1248.9 1614.9,1250.8 1618.5,1252.7C1622.1,1254.5 1625.7,1256.4 1629.2,1258.3C1632.8,1260.2 1636.4,1262.1 1640.0,1264.0C1643.6,1265.9 1647.2,1267.8 1650.8,1269.6C1654.4,1271.5 1658.0,1273.4 1661.5,1275.3C1665.1,1277.2 1668.7,1279.1 1672.3,1281.0C1675.9,1282.9 1679.5,1284.8 1683.0,1286.7C1686.6,1288.6 1690.2,1290.5 1693.8,1292.4C1697.4,1294.4 1700.9,1296.3 1704.5,1298.2C1708.1,1300.1 1711.7,1302.0 1715.2,1303.9C1718.8,1305.8 1722.4,1307.7 1726.0,1309.7C1729.5,1311.6 1733.1,1313.5 1736.7,1315.4C1740.2,1317.4 1743.8,1319.3 1747.4,1321.2C1750.9,1323.1 1754.5,1325.1 1758.1,1327.0C1761.6,1328.9 1765.2,1330.9 1768.8,1332.8C1772.3,1334.7 1775.9,1336.7 1779.5,1338.6C1783.0,1340.5 1786.6,1342.5 1790.1,1344.4C1793.7,1346.4 1797.3,1348.3 1800.8,1350.2C1804.4,1352.2 1807.9,1354.1 1811.5,1356.1C1815.0,1358.0 1818.6,1360.0 1822.1,1361.9C1825.7,1363.9 1829.3,1365.8 1832.8,1367.8C1836.4,1369.8 1839.9,1371.7 1843.5,1373.7C1847.0,1375.6 1850.6,1377.6 1854.1,1379.6C1857.6,1381.5 1861.2,1383.5 1864.7,1385.5C1868.3,1387.4 1871.8,1389.4 1875.4,1391.4C1878.9,1393.3 1882.5,1395.3 1886.0,1397.3C1889.5,1399.3 1893.1,1401.3 1896.6,1403.2C1900.2,1405.2 1903.7,1407.2 1907.2,1409.2C1910.8,1411.2 1914.3,1413.1 1917.8,1415.1C1921.4,1417.1 1924.9,1419.1 1928.4,1421.1C1932.0,1423.1 1935.5,1425.1 1939.0,1427.1C1942.6,1429.1 1946.1,1431.1 1949.6,1433.1C1953.2,1435.1 1956.7,1437.1 1960.2,1439.1C1963.7,1441.1 1967.3,1443.1 1970.8,1445.1C1974.3,1447.1 1977.8,1449.1 1981.4,1451.1C1984.9,1453.1 1990.2,1456.1 1991.9,1457.1" fill="none" stroke="#1a28dc" stroke-width="3.4" stroke-linecap="butt" stroke-linejoin="round"/>
<path d="M1080.9,1183.0C1081.8,1181.2 1084.5,1175.7 1086.4,1172.1C1088.4,1168.4 1090.3,1164.7 1092.4,1161.2C1094.5,1157.6 1096.7,1154.1 1099.0,1150.7C1101.4,1147.3 1103.9,1144.0 1106.6,1141.0C1109.3,1137.9 1112.2,1135.1 1115.2,1132.4C1118.3,1129.7 1121.5,1127.2 1124.8,1124.9C1128.2,1122.6 1131.7,1120.4 1135.2,1118.4C1138.7,1116.4 1142.4,1114.6 1146.1,1112.9C1149.8,1111.3 1153.5,1109.8 1157.3,1108.4C1161.0,1107.0 1164.9,1105.8 1168.7,1104.7C1172.6,1103.6 1176.4,1102.7 1180.4,1101.9C1184.3,1101.0 1188.2,1100.3 1192.2,1099.8C1196.2,1099.2 1200.2,1098.7 1204.2,1098.3C1208.2,1098.0 1212.3,1097.7 1216.3,1097.5C1220.4,1097.4 1224.5,1097.3 1228.6,1097.3C1232.7,1097.3 1236.8,1097.4 1240.9,1097.6C1245.0,1097.8 1249.1,1098.0 1253.2,1098.3C1257.4,1098.6 1261.5,1099.0 1265.6,1099.4C1269.8,1099.9 1273.9,1100.4 1278.0,1100.9C1282.1,1101.4 1286.3,1102.0 1290.4,1102.6C1294.5,1103.2 1298.6,1103.9 1302.6,1104.5C1306.7,1105.2 1310.8,1105.9 1314.9,1106.6C1318.9,1107.3 1323.0,1108.1 1327.0,1108.8C1331.0,1109.6 1335.0,1110.4 1339.1,1111.2C1343.1,1112.0 1347.1,1112.8 1351.1,1113.7C1355.1,1114.5 1359.0,1115.4 1363.0,1116.3C1367.0,1117.2 1370.9,1118.1 1374.9,1119.0C1378.8,1119.9 1382.8,1120.9 1386.7,1121.8C1390.7,1122.8 1394.6,1123.8 1398.5,1124.8C1402.4,1125.8 1406.4,1126.8 1410.3,1127.8C1414.2,1128.8 1418.1,1129.8 1422.0,1130.9C1425.9,1131.9 1429.8,1133.0 1433.7,1134.1C1437.6,1135.1 1441.5,1136.2 1445.4,1137.3C1449.3,1138.4 1453.2,1139.5 1457.0,1140.6C1460.9,1141.7 1464.8,1142.8 1468.7,1143.9C1472.6,1145.1 1476.5,1146.2 1480.3,1147.3C1484.2,1148.5 1488.1,1149.6 1492.0,1150.7C1495.9,1151.9 1499.8,1153.0 1503.7,1154.2C1507.5,1155.3 1511.4,1156.5 1515.3,1157.6C1519.2,1158.8 1523.1,1159.9 1527.0,1161.1C1530.9,1162.2 1534.8,1163.4 1538.7,1164.6C1542.6,1165.7 1546.5,1166.9 1550.4,1168.1C1554.3,1169.2 1558.2,1170.4 1562.1,1171.6C1566.0,1172.7 1569.9,1173.9 1573.8,1175.1C1577.7,1176.3 1581.6,1177.4 1585.5,1178.6C1589.4,1179.8 1593.4,1181.0 1597.3,1182.2C1601.2,1183.4 1605.1,1184.5 1609.0,1185.7C1612.9,1186.9 1616.8,1188.1 1620.7,1189.3C1624.6,1190.5 1628.5,1191.7 1632.4,1192.9C1636.4,1194.1 1640.3,1195.3 1644.2,1196.5C1648.1,1197.8 1652.0,1199.0 1655.9,1200.2C1659.8,1201.4 1663.7,1202.6 1667.6,1203.9C1671.5,1205.1 1675.4,1206.3 1679.3,1207.5C1683.2,1208.8 1687.1,1210.0 1691.0,1211.2C1694.9,1212.5 1698.8,1213.7 1702.7,1215.0C1706.6,1216.2 1710.4,1217.5 1714.3,1218.7C1718.2,1220.0 1722.1,1221.2 1726.0,1222.5C1729.9,1223.8 1733.7,1225.0 1737.6,1226.3C1741.5,1227.6 1745.4,1228.9 1749.2,1230.1C1753.1,1231.4 1757.0,1232.7 1760.8,1234.0C1764.7,1235.3 1768.6,1236.6 1772.4,1237.8C1776.3,1239.1 1780.2,1240.4 1784.0,1241.7C1787.9,1243.0 1791.7,1244.3 1795.6,1245.6C1799.4,1246.9 1803.3,1248.2 1807.2,1249.5C1811.0,1250.8 1814.9,1252.1 1818.7,1253.4C1822.6,1254.7 1826.4,1256.0 1830.3,1257.3C1834.1,1258.6 1838.0,1259.9 1841.8,1261.2C1845.7,1262.5 1849.5,1263.8 1853.4,1265.1C1857.2,1266.4 1861.1,1267.7 1865.0,1269.0C1868.8,1270.3 1872.7,1271.6 1876.5,1272.9C1880.4,1274.2 1884.2,1275.5 1888.1,1276.8C1891.9,1278.1 1895.8,1279.4 1899.6,1280.7C1903.5,1282.0 1907.4,1283.3 1911.2,1284.5C1915.1,1285.8 1918.9,1287.1 1922.8,1288.4C1926.7,1289.7 1930.5,1290.9 1934.4,1292.2C1938.2,1293.5 1942.1,1294.8 1946.0,1296.0C1949.9,1297.3 1953.7,1298.6 1957.6,1299.8C1961.5,1301.1 1965.3,1302.3 1969.2,1303.6C1973.1,1304.8 1977.0,1306.1 1980.9,1307.3C1984.7,1308.5 1988.6,1309.8 1992.5,1311.0C1996.4,1312.2 2000.3,1313.4 2004.2,1314.6C2008.1,1315.9 2012.0,1317.1 2015.9,1318.3C2019.8,1319.5 2023.7,1320.7 2027.6,1321.9C2031.5,1323.0 2035.4,1324.2 2039.3,1325.4C2043.3,1326.6 2047.2,1327.7 2051.1,1328.9C2055.0,1330.1 2060.9,1331.8 2062.9,1332.3" fill="none" stroke="#990a9c" stroke-width="3.4" stroke-linecap="butt" stroke-linejoin="round"/>
<circle cx="890.1" cy="1815.9" r="24.3" fill="#dc0806"/>
<circle cx="912.9" cy="1788.4" r="24.3" fill="#dc0806"/>
<circle cx="1044.2" cy="1449.1" r="24.3" fill="#dc0806"/>
<circle cx="1723" cy="1481.5" r="24.3" fill="#dc0806"/>
<rect x="857.2" y="1017.5" width="48.6" height="48.6" rx="2.5" fill="#0a611a"/>
<rect x="875.4" y="1117.6" width="48.6" height="48.6" rx="2.5" fill="#0a611a"/>
<rect x="1699.3" y="1430.2" width="48.6" height="48.6" rx="2.5" fill="#0a611a"/>
<path d="M1051.0,1060.9 L1075.9,1096.4 L1026.1,1096.4 Z" fill="#0a00d6" stroke="#0a00d6" stroke-width="3" stroke-linejoin="round"/>
<path d="M996.7,1133.6 L1021.6,1168.6 L971.8,1168.6 Z" fill="#0a00d6" stroke="#0a00d6" stroke-width="3" stroke-linejoin="round"/>
<path d="M1132.3,1444.6 L1157.2,1481.4 L1107.4,1481.4 Z" fill="#0a00d6" stroke="#0a00d6" stroke-width="3" stroke-linejoin="round"/>
<path d="M1992.4,1436.5 L2017.3,1472.0 L1967.5,1472.0 Z" fill="#0a00d6" stroke="#0a00d6" stroke-width="3" stroke-linejoin="round"/>
<path d="M1125.6,1110.2 L1147.8999999999999,1132.5 L1125.6,1154.8 L1103.3,1132.5 Z" fill="#6614d6" stroke="#6614d6" stroke-width="3" stroke-linejoin="round"/>
<path d="M1080.5,1160.4 L1102.8,1182.7 L1080.5,1205.0 L1058.2,1182.7 Z" fill="#6614d6" stroke="#6614d6" stroke-width="3" stroke-linejoin="round"/>
<path d="M1193.1,1133.3 L1215.3999999999999,1155.6 L1193.1,1177.8999999999999 L1170.8,1155.6 Z" fill="#6614d6" stroke="#6614d6" stroke-width="3" stroke-linejoin="round"/>
<path d="M2062.8,1318.6000000000001 L2085.1000000000004,1340.9 L2062.8,1363.2 L2040.5000000000002,1340.9 Z" fill="#6614d6" stroke="#6614d6" stroke-width="3" stroke-linejoin="round"/>
<g stroke-linecap="butt">
<rect x="500.7" y="34.9" width="1798.3" height="905.8000000000001" fill="none" stroke="#000" stroke-width="6.0"/>
<line x1="718.3" y1="34.9" x2="718.3" y2="59.9" stroke="#000" stroke-width="4.6"/>
<line x1="718.3" y1="940.7" x2="718.3" y2="915.7" stroke="#000" stroke-width="4.6"/>
<line x1="844.9" y1="34.9" x2="844.9" y2="59.9" stroke="#000" stroke-width="4.6"/>
<line x1="844.9" y1="940.7" x2="844.9" y2="915.7" stroke="#000" stroke-width="4.6"/>
<line x1="935.4" y1="34.9" x2="935.4" y2="59.9" stroke="#000" stroke-width="4.6"/>
<line x1="935.4" y1="940.7" x2="935.4" y2="915.7" stroke="#000" stroke-width="4.6"/>
<line x1="1008.0" y1="34.9" x2="1008.0" y2="59.9" stroke="#000" stroke-width="4.6"/>
<line x1="1008.0" y1="940.7" x2="1008.0" y2="915.7" stroke="#000" stroke-width="4.6"/>
<line x1="1066.6" y1="34.9" x2="1066.6" y2="59.9" stroke="#000" stroke-width="4.6"/>
<line x1="1066.6" y1="940.7" x2="1066.6" y2="915.7" stroke="#000" stroke-width="4.6"/>
<line x1="1112.4" y1="34.9" x2="1112.4" y2="59.9" stroke="#000" stroke-width="4.6"/>
<line x1="1112.4" y1="940.7" x2="1112.4" y2="915.7" stroke="#000" stroke-width="4.6"/>
<line x1="1157.2" y1="34.9" x2="1157.2" y2="59.9" stroke="#000" stroke-width="4.6"/>
<line x1="1157.2" y1="940.7" x2="1157.2" y2="915.7" stroke="#000" stroke-width="4.6"/>
<line x1="1193.5" y1="34.9" x2="1193.5" y2="59.9" stroke="#000" stroke-width="4.6"/>
<line x1="1193.5" y1="940.7" x2="1193.5" y2="915.7" stroke="#000" stroke-width="4.6"/>
<line x1="1446.6" y1="34.9" x2="1446.6" y2="59.9" stroke="#000" stroke-width="4.6"/>
<line x1="1446.6" y1="940.7" x2="1446.6" y2="915.7" stroke="#000" stroke-width="4.6"/>
<line x1="1573.7" y1="34.9" x2="1573.7" y2="59.9" stroke="#000" stroke-width="4.6"/>
<line x1="1573.7" y1="940.7" x2="1573.7" y2="915.7" stroke="#000" stroke-width="4.6"/>
<line x1="1664.3" y1="34.9" x2="1664.3" y2="59.9" stroke="#000" stroke-width="4.6"/>
<line x1="1664.3" y1="940.7" x2="1664.3" y2="915.7" stroke="#000" stroke-width="4.6"/>
<line x1="1732.3" y1="34.9" x2="1732.3" y2="59.9" stroke="#000" stroke-width="4.6"/>
<line x1="1732.3" y1="940.7" x2="1732.3" y2="915.7" stroke="#000" stroke-width="4.6"/>
<line x1="1791.6" y1="34.9" x2="1791.6" y2="59.9" stroke="#000" stroke-width="4.6"/>
<line x1="1791.6" y1="940.7" x2="1791.6" y2="915.7" stroke="#000" stroke-width="4.6"/>
<line x1="1840.8" y1="34.9" x2="1840.8" y2="59.9" stroke="#000" stroke-width="4.6"/>
<line x1="1840.8" y1="940.7" x2="1840.8" y2="915.7" stroke="#000" stroke-width="4.6"/>
<line x1="1881.5" y1="34.9" x2="1881.5" y2="59.9" stroke="#000" stroke-width="4.6"/>
<line x1="1881.5" y1="940.7" x2="1881.5" y2="915.7" stroke="#000" stroke-width="4.6"/>
<line x1="1918.1" y1="34.9" x2="1918.1" y2="59.9" stroke="#000" stroke-width="4.6"/>
<line x1="1918.1" y1="940.7" x2="1918.1" y2="915.7" stroke="#000" stroke-width="4.6"/>
<line x1="2171.5" y1="34.9" x2="2171.5" y2="59.9" stroke="#000" stroke-width="4.6"/>
<line x1="2171.5" y1="940.7" x2="2171.5" y2="915.7" stroke="#000" stroke-width="4.6"/>
<line x1="1225.1" y1="34.9" x2="1225.1" y2="104.9" stroke="#000" stroke-width="4.6"/>
<line x1="1225.1" y1="940.7" x2="1225.1" y2="870.7" stroke="#000" stroke-width="4.6"/>
<line x1="1954.3" y1="34.9" x2="1954.3" y2="104.9" stroke="#000" stroke-width="4.6"/>
<line x1="1954.3" y1="940.7" x2="1954.3" y2="870.7" stroke="#000" stroke-width="4.6"/>
<rect x="500.7" y="969.8" width="1798.3" height="904.0" fill="none" stroke="#000" stroke-width="6.0"/>
<line x1="718.3" y1="969.8" x2="718.3" y2="994.8" stroke="#000" stroke-width="4.6"/>
<line x1="718.3" y1="1873.8" x2="718.3" y2="1848.8" stroke="#000" stroke-width="4.6"/>
<line x1="844.9" y1="969.8" x2="844.9" y2="994.8" stroke="#000" stroke-width="4.6"/>
<line x1="844.9" y1="1873.8" x2="844.9" y2="1848.8" stroke="#000" stroke-width="4.6"/>
<line x1="935.4" y1="969.8" x2="935.4" y2="994.8" stroke="#000" stroke-width="4.6"/>
<line x1="935.4" y1="1873.8" x2="935.4" y2="1848.8" stroke="#000" stroke-width="4.6"/>
<line x1="1008.0" y1="969.8" x2="1008.0" y2="994.8" stroke="#000" stroke-width="4.6"/>
<line x1="1008.0" y1="1873.8" x2="1008.0" y2="1848.8" stroke="#000" stroke-width="4.6"/>
<line x1="1066.6" y1="969.8" x2="1066.6" y2="994.8" stroke="#000" stroke-width="4.6"/>
<line x1="1066.6" y1="1873.8" x2="1066.6" y2="1848.8" stroke="#000" stroke-width="4.6"/>
<line x1="1112.4" y1="969.8" x2="1112.4" y2="994.8" stroke="#000" stroke-width="4.6"/>
<line x1="1112.4" y1="1873.8" x2="1112.4" y2="1848.8" stroke="#000" stroke-width="4.6"/>
<line x1="1157.2" y1="969.8" x2="1157.2" y2="994.8" stroke="#000" stroke-width="4.6"/>
<line x1="1157.2" y1="1873.8" x2="1157.2" y2="1848.8" stroke="#000" stroke-width="4.6"/>
<line x1="1193.5" y1="969.8" x2="1193.5" y2="994.8" stroke="#000" stroke-width="4.6"/>
<line x1="1193.5" y1="1873.8" x2="1193.5" y2="1848.8" stroke="#000" stroke-width="4.6"/>
<line x1="1446.6" y1="969.8" x2="1446.6" y2="994.8" stroke="#000" stroke-width="4.6"/>
<line x1="1446.6" y1="1873.8" x2="1446.6" y2="1848.8" stroke="#000" stroke-width="4.6"/>
<line x1="1573.7" y1="969.8" x2="1573.7" y2="994.8" stroke="#000" stroke-width="4.6"/>
<line x1="1573.7" y1="1873.8" x2="1573.7" y2="1848.8" stroke="#000" stroke-width="4.6"/>
<line x1="1664.3" y1="969.8" x2="1664.3" y2="994.8" stroke="#000" stroke-width="4.6"/>
<line x1="1664.3" y1="1873.8" x2="1664.3" y2="1848.8" stroke="#000" stroke-width="4.6"/>
<line x1="1732.3" y1="969.8" x2="1732.3" y2="994.8" stroke="#000" stroke-width="4.6"/>
<line x1="1732.3" y1="1873.8" x2="1732.3" y2="1848.8" stroke="#000" stroke-width="4.6"/>
<line x1="1791.6" y1="969.8" x2="1791.6" y2="994.8" stroke="#000" stroke-width="4.6"/>
<line x1="1791.6" y1="1873.8" x2="1791.6" y2="1848.8" stroke="#000" stroke-width="4.6"/>
<line x1="1840.8" y1="969.8" x2="1840.8" y2="994.8" stroke="#000" stroke-width="4.6"/>
<line x1="1840.8" y1="1873.8" x2="1840.8" y2="1848.8" stroke="#000" stroke-width="4.6"/>
<line x1="1881.5" y1="969.8" x2="1881.5" y2="994.8" stroke="#000" stroke-width="4.6"/>
<line x1="1881.5" y1="1873.8" x2="1881.5" y2="1848.8" stroke="#000" stroke-width="4.6"/>
<line x1="1918.1" y1="969.8" x2="1918.1" y2="994.8" stroke="#000" stroke-width="4.6"/>
<line x1="1918.1" y1="1873.8" x2="1918.1" y2="1848.8" stroke="#000" stroke-width="4.6"/>
<line x1="2171.5" y1="969.8" x2="2171.5" y2="994.8" stroke="#000" stroke-width="4.6"/>
<line x1="2171.5" y1="1873.8" x2="2171.5" y2="1848.8" stroke="#000" stroke-width="4.6"/>
<line x1="1225.1" y1="969.8" x2="1225.1" y2="1039.8" stroke="#000" stroke-width="4.6"/>
<line x1="1225.1" y1="1873.8" x2="1225.1" y2="1803.8" stroke="#000" stroke-width="4.6"/>
<line x1="1954.3" y1="969.8" x2="1954.3" y2="1039.8" stroke="#000" stroke-width="4.6"/>
<line x1="1954.3" y1="1873.8" x2="1954.3" y2="1803.8" stroke="#000" stroke-width="4.6"/>
<line x1="500.7" y1="115.8" x2="570.7" y2="115.8" stroke="#000" stroke-width="4.6"/>
<line x1="2299.0" y1="115.8" x2="2229.0" y2="115.8" stroke="#000" stroke-width="4.6"/>
<line x1="500.7" y1="292.4" x2="570.7" y2="292.4" stroke="#000" stroke-width="4.6"/>
<line x1="2299.0" y1="292.4" x2="2229.0" y2="292.4" stroke="#000" stroke-width="4.6"/>
<line x1="500.7" y1="464.9" x2="570.7" y2="464.9" stroke="#000" stroke-width="4.6"/>
<line x1="2299.0" y1="464.9" x2="2229.0" y2="464.9" stroke="#000" stroke-width="4.6"/>
<line x1="500.7" y1="641.6" x2="570.7" y2="641.6" stroke="#000" stroke-width="4.6"/>
<line x1="2299.0" y1="641.6" x2="2229.0" y2="641.6" stroke="#000" stroke-width="4.6"/>
<line x1="500.7" y1="813.7" x2="570.7" y2="813.7" stroke="#000" stroke-width="4.6"/>
<line x1="2299.0" y1="813.7" x2="2229.0" y2="813.7" stroke="#000" stroke-width="4.6"/>
<line x1="500.7" y1="65.8" x2="525.7" y2="65.8" stroke="#000" stroke-width="4.6"/>
<line x1="2299.0" y1="65.8" x2="2274.0" y2="65.8" stroke="#000" stroke-width="4.6"/>
<line x1="500.7" y1="125.2" x2="525.7" y2="125.2" stroke="#000" stroke-width="4.6"/>
<line x1="2299.0" y1="125.2" x2="2274.0" y2="125.2" stroke="#000" stroke-width="4.6"/>
<line x1="500.7" y1="133.8" x2="525.7" y2="133.8" stroke="#000" stroke-width="4.6"/>
<line x1="2299.0" y1="133.8" x2="2274.0" y2="133.8" stroke="#000" stroke-width="4.6"/>
<line x1="500.7" y1="143.5" x2="525.7" y2="143.5" stroke="#000" stroke-width="4.6"/>
<line x1="2299.0" y1="143.5" x2="2274.0" y2="143.5" stroke="#000" stroke-width="4.6"/>
<line x1="500.7" y1="156.9" x2="525.7" y2="156.9" stroke="#000" stroke-width="4.6"/>
<line x1="2299.0" y1="156.9" x2="2274.0" y2="156.9" stroke="#000" stroke-width="4.6"/>
<line x1="500.7" y1="170.2" x2="525.7" y2="170.2" stroke="#000" stroke-width="4.6"/>
<line x1="2299.0" y1="170.2" x2="2274.0" y2="170.2" stroke="#000" stroke-width="4.6"/>
<line x1="500.7" y1="188.4" x2="525.7" y2="188.4" stroke="#000" stroke-width="4.6"/>
<line x1="2299.0" y1="188.4" x2="2274.0" y2="188.4" stroke="#000" stroke-width="4.6"/>
<line x1="500.7" y1="206.7" x2="525.7" y2="206.7" stroke="#000" stroke-width="4.6"/>
<line x1="2299.0" y1="206.7" x2="2274.0" y2="206.7" stroke="#000" stroke-width="4.6"/>
<line x1="500.7" y1="238.0" x2="525.7" y2="238.0" stroke="#000" stroke-width="4.6"/>
<line x1="2299.0" y1="238.0" x2="2274.0" y2="238.0" stroke="#000" stroke-width="4.6"/>
<line x1="500.7" y1="301.9" x2="525.7" y2="301.9" stroke="#000" stroke-width="4.6"/>
<line x1="2299.0" y1="301.9" x2="2274.0" y2="301.9" stroke="#000" stroke-width="4.6"/>
<line x1="500.7" y1="310.9" x2="525.7" y2="310.9" stroke="#000" stroke-width="4.6"/>
<line x1="2299.0" y1="310.9" x2="2274.0" y2="310.9" stroke="#000" stroke-width="4.6"/>
<line x1="500.7" y1="320.0" x2="525.7" y2="320.0" stroke="#000" stroke-width="4.6"/>
<line x1="2299.0" y1="320.0" x2="2274.0" y2="320.0" stroke="#000" stroke-width="4.6"/>
<line x1="500.7" y1="329.2" x2="525.7" y2="329.2" stroke="#000" stroke-width="4.6"/>
<line x1="2299.0" y1="329.2" x2="2274.0" y2="329.2" stroke="#000" stroke-width="4.6"/>
<line x1="500.7" y1="342.9" x2="525.7" y2="342.9" stroke="#000" stroke-width="4.6"/>
<line x1="2299.0" y1="342.9" x2="2274.0" y2="342.9" stroke="#000" stroke-width="4.6"/>
<line x1="500.7" y1="360.9" x2="525.7" y2="360.9" stroke="#000" stroke-width="4.6"/>
<line x1="2299.0" y1="360.9" x2="2274.0" y2="360.9" stroke="#000" stroke-width="4.6"/>
<line x1="500.7" y1="383.6" x2="525.7" y2="383.6" stroke="#000" stroke-width="4.6"/>
<line x1="2299.0" y1="383.6" x2="2274.0" y2="383.6" stroke="#000" stroke-width="4.6"/>
<line x1="500.7" y1="415.1" x2="525.7" y2="415.1" stroke="#000" stroke-width="4.6"/>
<line x1="2299.0" y1="415.1" x2="2274.0" y2="415.1" stroke="#000" stroke-width="4.6"/>
<line x1="500.7" y1="473.9" x2="525.7" y2="473.9" stroke="#000" stroke-width="4.6"/>
<line x1="2299.0" y1="473.9" x2="2274.0" y2="473.9" stroke="#000" stroke-width="4.6"/>
<line x1="500.7" y1="483.2" x2="525.7" y2="483.2" stroke="#000" stroke-width="4.6"/>
<line x1="2299.0" y1="483.2" x2="2274.0" y2="483.2" stroke="#000" stroke-width="4.6"/>
<line x1="500.7" y1="492.2" x2="525.7" y2="492.2" stroke="#000" stroke-width="4.6"/>
<line x1="2299.0" y1="492.2" x2="2274.0" y2="492.2" stroke="#000" stroke-width="4.6"/>
<line x1="500.7" y1="505.7" x2="525.7" y2="505.7" stroke="#000" stroke-width="4.6"/>
<line x1="2299.0" y1="505.7" x2="2274.0" y2="505.7" stroke="#000" stroke-width="4.6"/>
<line x1="500.7" y1="519.3" x2="525.7" y2="519.3" stroke="#000" stroke-width="4.6"/>
<line x1="2299.0" y1="519.3" x2="2274.0" y2="519.3" stroke="#000" stroke-width="4.6"/>
<line x1="500.7" y1="537.6" x2="525.7" y2="537.6" stroke="#000" stroke-width="4.6"/>
<line x1="2299.0" y1="537.6" x2="2274.0" y2="537.6" stroke="#000" stroke-width="4.6"/>
<line x1="500.7" y1="555.7" x2="525.7" y2="555.7" stroke="#000" stroke-width="4.6"/>
<line x1="2299.0" y1="555.7" x2="2274.0" y2="555.7" stroke="#000" stroke-width="4.6"/>
<line x1="500.7" y1="587.2" x2="525.7" y2="587.2" stroke="#000" stroke-width="4.6"/>
<line x1="2299.0" y1="587.2" x2="2274.0" y2="587.2" stroke="#000" stroke-width="4.6"/>
<line x1="500.7" y1="645.5" x2="525.7" y2="645.5" stroke="#000" stroke-width="4.6"/>
<line x1="2299.0" y1="645.5" x2="2274.0" y2="645.5" stroke="#000" stroke-width="4.6"/>
<line x1="500.7" y1="655.7" x2="525.7" y2="655.7" stroke="#000" stroke-width="4.6"/>
<line x1="2299.0" y1="655.7" x2="2274.0" y2="655.7" stroke="#000" stroke-width="4.6"/>
<line x1="500.7" y1="668.9" x2="525.7" y2="668.9" stroke="#000" stroke-width="4.6"/>
<line x1="2299.0" y1="668.9" x2="2274.0" y2="668.9" stroke="#000" stroke-width="4.6"/>
<line x1="500.7" y1="677.9" x2="525.7" y2="677.9" stroke="#000" stroke-width="4.6"/>
<line x1="2299.0" y1="677.9" x2="2274.0" y2="677.9" stroke="#000" stroke-width="4.6"/>
<line x1="500.7" y1="691.8" x2="525.7" y2="691.8" stroke="#000" stroke-width="4.6"/>
<line x1="2299.0" y1="691.8" x2="2274.0" y2="691.8" stroke="#000" stroke-width="4.6"/>
<line x1="500.7" y1="709.9" x2="525.7" y2="709.9" stroke="#000" stroke-width="4.6"/>
<line x1="2299.0" y1="709.9" x2="2274.0" y2="709.9" stroke="#000" stroke-width="4.6"/>
<line x1="500.7" y1="732.1" x2="525.7" y2="732.1" stroke="#000" stroke-width="4.6"/>
<line x1="2299.0" y1="732.1" x2="2274.0" y2="732.1" stroke="#000" stroke-width="4.6"/>
<line x1="500.7" y1="763.9" x2="525.7" y2="763.9" stroke="#000" stroke-width="4.6"/>
<line x1="2299.0" y1="763.9" x2="2274.0" y2="763.9" stroke="#000" stroke-width="4.6"/>
<line x1="500.7" y1="822.7" x2="525.7" y2="822.7" stroke="#000" stroke-width="4.6"/>
<line x1="2299.0" y1="822.7" x2="2274.0" y2="822.7" stroke="#000" stroke-width="4.6"/>
<line x1="500.7" y1="831.9" x2="525.7" y2="831.9" stroke="#000" stroke-width="4.6"/>
<line x1="2299.0" y1="831.9" x2="2274.0" y2="831.9" stroke="#000" stroke-width="4.6"/>
<line x1="500.7" y1="840.8" x2="525.7" y2="840.8" stroke="#000" stroke-width="4.6"/>
<line x1="2299.0" y1="840.8" x2="2274.0" y2="840.8" stroke="#000" stroke-width="4.6"/>
<line x1="500.7" y1="854.4" x2="525.7" y2="854.4" stroke="#000" stroke-width="4.6"/>
<line x1="2299.0" y1="854.4" x2="2274.0" y2="854.4" stroke="#000" stroke-width="4.6"/>
<line x1="500.7" y1="868.1" x2="525.7" y2="868.1" stroke="#000" stroke-width="4.6"/>
<line x1="2299.0" y1="868.1" x2="2274.0" y2="868.1" stroke="#000" stroke-width="4.6"/>
<line x1="500.7" y1="881.7" x2="525.7" y2="881.7" stroke="#000" stroke-width="4.6"/>
<line x1="2299.0" y1="881.7" x2="2274.0" y2="881.7" stroke="#000" stroke-width="4.6"/>
<line x1="500.7" y1="904.2" x2="525.7" y2="904.2" stroke="#000" stroke-width="4.6"/>
<line x1="2299.0" y1="904.2" x2="2274.0" y2="904.2" stroke="#000" stroke-width="4.6"/>
<line x1="500.7" y1="935.0" x2="525.7" y2="935.0" stroke="#000" stroke-width="4.6"/>
<line x1="2299.0" y1="935.0" x2="2274.0" y2="935.0" stroke="#000" stroke-width="4.6"/>
<line x1="500.7" y1="1069.1" x2="570.7" y2="1069.1" stroke="#000" stroke-width="4.6"/>
<line x1="2299.0" y1="1069.1" x2="2229.0" y2="1069.1" stroke="#000" stroke-width="4.6"/>
<line x1="500.7" y1="1209.7" x2="570.7" y2="1209.7" stroke="#000" stroke-width="4.6"/>
<line x1="2299.0" y1="1209.7" x2="2229.0" y2="1209.7" stroke="#000" stroke-width="4.6"/>
<line x1="500.7" y1="1349.6" x2="570.7" y2="1349.6" stroke="#000" stroke-width="4.6"/>
<line x1="2299.0" y1="1349.6" x2="2229.0" y2="1349.6" stroke="#000" stroke-width="4.6"/>
<line x1="500.7" y1="1489.7" x2="570.7" y2="1489.7" stroke="#000" stroke-width="4.6"/>
<line x1="2299.0" y1="1489.7" x2="2229.0" y2="1489.7" stroke="#000" stroke-width="4.6"/>
<line x1="500.7" y1="1630.0" x2="570.7" y2="1630.0" stroke="#000" stroke-width="4.6"/>
<line x1="2299.0" y1="1630.0" x2="2229.0" y2="1630.0" stroke="#000" stroke-width="4.6"/>
<line x1="500.7" y1="1770.2" x2="570.7" y2="1770.2" stroke="#000" stroke-width="4.6"/>
<line x1="2299.0" y1="1770.2" x2="2229.0" y2="1770.2" stroke="#000" stroke-width="4.6"/>
<line x1="500.7" y1="1072.6" x2="525.7" y2="1072.6" stroke="#000" stroke-width="4.6"/>
<line x1="2299.0" y1="1072.6" x2="2274.0" y2="1072.6" stroke="#000" stroke-width="4.6"/>
<line x1="500.7" y1="1082.4" x2="525.7" y2="1082.4" stroke="#000" stroke-width="4.6"/>
<line x1="2299.0" y1="1082.4" x2="2274.0" y2="1082.4" stroke="#000" stroke-width="4.6"/>
<line x1="500.7" y1="1091.6" x2="525.7" y2="1091.6" stroke="#000" stroke-width="4.6"/>
<line x1="2299.0" y1="1091.6" x2="2274.0" y2="1091.6" stroke="#000" stroke-width="4.6"/>
<line x1="500.7" y1="1100.9" x2="525.7" y2="1100.9" stroke="#000" stroke-width="4.6"/>
<line x1="2299.0" y1="1100.9" x2="2274.0" y2="1100.9" stroke="#000" stroke-width="4.6"/>
<line x1="500.7" y1="1109.7" x2="525.7" y2="1109.7" stroke="#000" stroke-width="4.6"/>
<line x1="2299.0" y1="1109.7" x2="2274.0" y2="1109.7" stroke="#000" stroke-width="4.6"/>
<line x1="500.7" y1="1123.6" x2="525.7" y2="1123.6" stroke="#000" stroke-width="4.6"/>
<line x1="2299.0" y1="1123.6" x2="2274.0" y2="1123.6" stroke="#000" stroke-width="4.6"/>
<line x1="500.7" y1="1141.7" x2="525.7" y2="1141.7" stroke="#000" stroke-width="4.6"/>
<line x1="2299.0" y1="1141.7" x2="2274.0" y2="1141.7" stroke="#000" stroke-width="4.6"/>
<line x1="500.7" y1="1163.9" x2="525.7" y2="1163.9" stroke="#000" stroke-width="4.6"/>
<line x1="2299.0" y1="1163.9" x2="2274.0" y2="1163.9" stroke="#000" stroke-width="4.6"/>
<line x1="500.7" y1="1213.2" x2="525.7" y2="1213.2" stroke="#000" stroke-width="4.6"/>
<line x1="2299.0" y1="1213.2" x2="2274.0" y2="1213.2" stroke="#000" stroke-width="4.6"/>
<line x1="500.7" y1="1223.0" x2="525.7" y2="1223.0" stroke="#000" stroke-width="4.6"/>
<line x1="2299.0" y1="1223.0" x2="2274.0" y2="1223.0" stroke="#000" stroke-width="4.6"/>
<line x1="500.7" y1="1232.2" x2="525.7" y2="1232.2" stroke="#000" stroke-width="4.6"/>
<line x1="2299.0" y1="1232.2" x2="2274.0" y2="1232.2" stroke="#000" stroke-width="4.6"/>
<line x1="500.7" y1="1241.5" x2="525.7" y2="1241.5" stroke="#000" stroke-width="4.6"/>
<line x1="2299.0" y1="1241.5" x2="2274.0" y2="1241.5" stroke="#000" stroke-width="4.6"/>
<line x1="500.7" y1="1250.3" x2="525.7" y2="1250.3" stroke="#000" stroke-width="4.6"/>
<line x1="2299.0" y1="1250.3" x2="2274.0" y2="1250.3" stroke="#000" stroke-width="4.6"/>
<line x1="500.7" y1="1264.2" x2="525.7" y2="1264.2" stroke="#000" stroke-width="4.6"/>
<line x1="2299.0" y1="1264.2" x2="2274.0" y2="1264.2" stroke="#000" stroke-width="4.6"/>
<line x1="500.7" y1="1282.3" x2="525.7" y2="1282.3" stroke="#000" stroke-width="4.6"/>
<line x1="2299.0" y1="1282.3" x2="2274.0" y2="1282.3" stroke="#000" stroke-width="4.6"/>
<line x1="500.7" y1="1304.5" x2="525.7" y2="1304.5" stroke="#000" stroke-width="4.6"/>
<line x1="2299.0" y1="1304.5" x2="2274.0" y2="1304.5" stroke="#000" stroke-width="4.6"/>
<line x1="500.7" y1="1353.1" x2="525.7" y2="1353.1" stroke="#000" stroke-width="4.6"/>
<line x1="2299.0" y1="1353.1" x2="2274.0" y2="1353.1" stroke="#000" stroke-width="4.6"/>
<line x1="500.7" y1="1362.9" x2="525.7" y2="1362.9" stroke="#000" stroke-width="4.6"/>
<line x1="2299.0" y1="1362.9" x2="2274.0" y2="1362.9" stroke="#000" stroke-width="4.6"/>
<line x1="500.7" y1="1372.1" x2="525.7" y2="1372.1" stroke="#000" stroke-width="4.6"/>
<line x1="2299.0" y1="1372.1" x2="2274.0" y2="1372.1" stroke="#000" stroke-width="4.6"/>
<line x1="500.7" y1="1381.4" x2="525.7" y2="1381.4" stroke="#000" stroke-width="4.6"/>
<line x1="2299.0" y1="1381.4" x2="2274.0" y2="1381.4" stroke="#000" stroke-width="4.6"/>
<line x1="500.7" y1="1390.2" x2="525.7" y2="1390.2" stroke="#000" stroke-width="4.6"/>
<line x1="2299.0" y1="1390.2" x2="2274.0" y2="1390.2" stroke="#000" stroke-width="4.6"/>
<line x1="500.7" y1="1404.1" x2="525.7" y2="1404.1" stroke="#000" stroke-width="4.6"/>
<line x1="2299.0" y1="1404.1" x2="2274.0" y2="1404.1" stroke="#000" stroke-width="4.6"/>
<line x1="500.7" y1="1422.2" x2="525.7" y2="1422.2" stroke="#000" stroke-width="4.6"/>
<line x1="2299.0" y1="1422.2" x2="2274.0" y2="1422.2" stroke="#000" stroke-width="4.6"/>
<line x1="500.7" y1="1444.4" x2="525.7" y2="1444.4" stroke="#000" stroke-width="4.6"/>
<line x1="2299.0" y1="1444.4" x2="2274.0" y2="1444.4" stroke="#000" stroke-width="4.6"/>
<line x1="500.7" y1="1493.2" x2="525.7" y2="1493.2" stroke="#000" stroke-width="4.6"/>
<line x1="2299.0" y1="1493.2" x2="2274.0" y2="1493.2" stroke="#000" stroke-width="4.6"/>
<line x1="500.7" y1="1503.0" x2="525.7" y2="1503.0" stroke="#000" stroke-width="4.6"/>
<line x1="2299.0" y1="1503.0" x2="2274.0" y2="1503.0" stroke="#000" stroke-width="4.6"/>
<line x1="500.7" y1="1512.2" x2="525.7" y2="1512.2" stroke="#000" stroke-width="4.6"/>
<line x1="2299.0" y1="1512.2" x2="2274.0" y2="1512.2" stroke="#000" stroke-width="4.6"/>
<line x1="500.7" y1="1521.5" x2="525.7" y2="1521.5" stroke="#000" stroke-width="4.6"/>
<line x1="2299.0" y1="1521.5" x2="2274.0" y2="1521.5" stroke="#000" stroke-width="4.6"/>
<line x1="500.7" y1="1530.3" x2="525.7" y2="1530.3" stroke="#000" stroke-width="4.6"/>
<line x1="2299.0" y1="1530.3" x2="2274.0" y2="1530.3" stroke="#000" stroke-width="4.6"/>
<line x1="500.7" y1="1544.2" x2="525.7" y2="1544.2" stroke="#000" stroke-width="4.6"/>
<line x1="2299.0" y1="1544.2" x2="2274.0" y2="1544.2" stroke="#000" stroke-width="4.6"/>
<line x1="500.7" y1="1562.3" x2="525.7" y2="1562.3" stroke="#000" stroke-width="4.6"/>
<line x1="2299.0" y1="1562.3" x2="2274.0" y2="1562.3" stroke="#000" stroke-width="4.6"/>
<line x1="500.7" y1="1584.5" x2="525.7" y2="1584.5" stroke="#000" stroke-width="4.6"/>
<line x1="2299.0" y1="1584.5" x2="2274.0" y2="1584.5" stroke="#000" stroke-width="4.6"/>
<line x1="500.7" y1="1633.5" x2="525.7" y2="1633.5" stroke="#000" stroke-width="4.6"/>
<line x1="2299.0" y1="1633.5" x2="2274.0" y2="1633.5" stroke="#000" stroke-width="4.6"/>
<line x1="500.7" y1="1643.3" x2="525.7" y2="1643.3" stroke="#000" stroke-width="4.6"/>
<line x1="2299.0" y1="1643.3" x2="2274.0" y2="1643.3" stroke="#000" stroke-width="4.6"/>
<line x1="500.7" y1="1652.5" x2="525.7" y2="1652.5" stroke="#000" stroke-width="4.6"/>
<line x1="2299.0" y1="1652.5" x2="2274.0" y2="1652.5" stroke="#000" stroke-width="4.6"/>
<line x1="500.7" y1="1661.8" x2="525.7" y2="1661.8" stroke="#000" stroke-width="4.6"/>
<line x1="2299.0" y1="1661.8" x2="2274.0" y2="1661.8" stroke="#000" stroke-width="4.6"/>
<line x1="500.7" y1="1670.6" x2="525.7" y2="1670.6" stroke="#000" stroke-width="4.6"/>
<line x1="2299.0" y1="1670.6" x2="2274.0" y2="1670.6" stroke="#000" stroke-width="4.6"/>
<line x1="500.7" y1="1684.5" x2="525.7" y2="1684.5" stroke="#000" stroke-width="4.6"/>
<line x1="2299.0" y1="1684.5" x2="2274.0" y2="1684.5" stroke="#000" stroke-width="4.6"/>
<line x1="500.7" y1="1702.6" x2="525.7" y2="1702.6" stroke="#000" stroke-width="4.6"/>
<line x1="2299.0" y1="1702.6" x2="2274.0" y2="1702.6" stroke="#000" stroke-width="4.6"/>
<line x1="500.7" y1="1724.8" x2="525.7" y2="1724.8" stroke="#000" stroke-width="4.6"/>
<line x1="2299.0" y1="1724.8" x2="2274.0" y2="1724.8" stroke="#000" stroke-width="4.6"/>
<line x1="500.7" y1="1773.7" x2="525.7" y2="1773.7" stroke="#000" stroke-width="4.6"/>
<line x1="2299.0" y1="1773.7" x2="2274.0" y2="1773.7" stroke="#000" stroke-width="4.6"/>
<line x1="500.7" y1="1783.5" x2="525.7" y2="1783.5" stroke="#000" stroke-width="4.6"/>
<line x1="2299.0" y1="1783.5" x2="2274.0" y2="1783.5" stroke="#000" stroke-width="4.6"/>
<line x1="500.7" y1="1792.7" x2="525.7" y2="1792.7" stroke="#000" stroke-width="4.6"/>
<line x1="2299.0" y1="1792.7" x2="2274.0" y2="1792.7" stroke="#000" stroke-width="4.6"/>
<line x1="500.7" y1="1802.0" x2="525.7" y2="1802.0" stroke="#000" stroke-width="4.6"/>
<line x1="2299.0" y1="1802.0" x2="2274.0" y2="1802.0" stroke="#000" stroke-width="4.6"/>
<line x1="500.7" y1="1810.8" x2="525.7" y2="1810.8" stroke="#000" stroke-width="4.6"/>
<line x1="2299.0" y1="1810.8" x2="2274.0" y2="1810.8" stroke="#000" stroke-width="4.6"/>
<line x1="500.7" y1="1824.7" x2="525.7" y2="1824.7" stroke="#000" stroke-width="4.6"/>
<line x1="2299.0" y1="1824.7" x2="2274.0" y2="1824.7" stroke="#000" stroke-width="4.6"/>
<line x1="500.7" y1="1842.8" x2="525.7" y2="1842.8" stroke="#000" stroke-width="4.6"/>
<line x1="2299.0" y1="1842.8" x2="2274.0" y2="1842.8" stroke="#000" stroke-width="4.6"/>
<line x1="500.7" y1="1865.0" x2="525.7" y2="1865.0" stroke="#000" stroke-width="4.6"/>
<line x1="2299.0" y1="1865.0" x2="2274.0" y2="1865.0" stroke="#000" stroke-width="4.6"/>
<line x1="500.7" y1="1024.2" x2="525.7" y2="1024.2" stroke="#000" stroke-width="4.6"/>
<line x1="2299.0" y1="1024.2" x2="2274.0" y2="1024.2" stroke="#000" stroke-width="4.6"/>
<line x1="500.7" y1="1002.1" x2="525.7" y2="1002.1" stroke="#000" stroke-width="4.6"/>
<line x1="2299.0" y1="1002.1" x2="2274.0" y2="1002.1" stroke="#000" stroke-width="4.6"/>
<line x1="500.7" y1="983.7" x2="525.7" y2="983.7" stroke="#000" stroke-width="4.6"/>
<line x1="2299.0" y1="983.7" x2="2274.0" y2="983.7" stroke="#000" stroke-width="4.6"/>
</g>
<text transform="translate(271.9,157.6) scale(1,1.065)" font-family="Liberation Sans, Arial, Helvetica, sans-serif" font-weight="bold" font-size="116.3">10<tspan font-size="78.5" dy="-32.9">2</tspan></text>
<text transform="translate(271.9,509.2) scale(1,1.065)" font-family="Liberation Sans, Arial, Helvetica, sans-serif" font-weight="bold" font-size="116.3">10<tspan font-size="78.5" dy="-32.9">0</tspan></text>
<text transform="translate(271.9,861.5) scale(1,1.065)" font-family="Liberation Sans, Arial, Helvetica, sans-serif" font-weight="bold" font-size="116.3">10<tspan font-size="90" dx="-4.5" dy="-28.5">–</tspan><tspan font-size="78.5" dx="-2.5" dy="-4.3">2</tspan></text>
<text transform="translate(271.9,1112.3) scale(1,1.065)" font-family="Liberation Sans, Arial, Helvetica, sans-serif" font-weight="bold" font-size="116.3">10<tspan font-size="78.5" dy="-32.9">0</tspan></text>
<text transform="translate(271.9,1391.9) scale(1,1.065)" font-family="Liberation Sans, Arial, Helvetica, sans-serif" font-weight="bold" font-size="116.3">10<tspan font-size="90" dx="-4.5" dy="-28.5">–</tspan><tspan font-size="78.5" dx="-2.5" dy="-4.3">2</tspan></text>
<text transform="translate(271.9,1670.4) scale(1,1.065)" font-family="Liberation Sans, Arial, Helvetica, sans-serif" font-weight="bold" font-size="116.3">10<tspan font-size="90" dx="-4.5" dy="-28.5">–</tspan><tspan font-size="78.5" dx="-2.5" dy="-4.3">4</tspan></text>
<text transform="translate(429.3,1997.6) scale(1,1.065)" font-family="Liberation Sans, Arial, Helvetica, sans-serif" font-weight="bold" font-size="116.3">10<tspan font-size="90" dx="-4.5" dy="-28.5">–</tspan><tspan font-size="78.5" dx="-2.5" dy="-4.3">1</tspan></text>
<text transform="translate(1144.6,1997.6) scale(1,1.065)" font-family="Liberation Sans, Arial, Helvetica, sans-serif" font-weight="bold" font-size="116.3">10<tspan font-size="78.5" dy="-32.9">0</tspan></text>
<text transform="translate(1880.9,1997.6) scale(1,1.065)" font-family="Liberation Sans, Arial, Helvetica, sans-serif" font-weight="bold" font-size="116.3">10<tspan font-size="78.5" dy="-32.9">1</tspan></text>
<text x="595.9" y="203" font-family="Liberation Sans, Arial, Helvetica, sans-serif" font-weight="bold" font-size="118">(a)</text>
<text x="597.5" y="1138" font-family="Liberation Sans, Arial, Helvetica, sans-serif" font-weight="bold" font-size="118">(b)</text>
<text transform="translate(140.2,581.9) rotate(-90) scale(1,1.037)" font-family="Liberation Sans, Arial, Helvetica, sans-serif" font-weight="bold" font-size="156.6" font-style="italic" x="0 117.5">G’</text>
<text transform="translate(140.2,1526.5) rotate(-90) scale(1,1.037)" font-family="Liberation Sans, Arial, Helvetica, sans-serif" font-weight="bold" font-size="156.6"><tspan font-style="italic">G</tspan><tspan x="114 149.2">’’</tspan></text>
<text transform="translate(140,300) rotate(-90) scale(1,1.01)" font-family="Liberation Sans, Arial, Helvetica, sans-serif" font-weight="bold" font-size="140" x="4.4 48.4 136.1 216.1">(Pa)</text>
<text transform="translate(140,1264) rotate(-90) scale(1,1.01)" font-family="Liberation Sans, Arial, Helvetica, sans-serif" font-weight="bold" font-size="140" x="4.4 48.4 136.1 216.1">(Pa)</text>
<text transform="translate(1213.9,2214.9) scale(1,0.98)" font-family="Liberation Sans, Arial, Helvetica, sans-serif" font-weight="bold" font-size="157" font-style="italic">d</text>
<text transform="translate(1302.6,2248.3) scale(1,0.993)" font-family="Liberation Sans, Arial, Helvetica, sans-serif" font-weight="bold" font-size="103.8">branch</text>
<text transform="translate(1819.1,2214.4) scale(1,0.985)" font-family="Liberation Sans, Arial, Helvetica, sans-serif" font-weight="bold" font-size="139">(</text>
<text transform="translate(1866.4,2214.4) scale(1.07,0.985)" font-family="Noto Serif CJK SC, Liberation Serif, serif" font-weight="bold" font-size="116">μ</text>
<text transform="translate(0,2214.4) scale(1,0.985)" font-family="Liberation Sans, Arial, Helvetica, sans-serif" font-weight="bold" font-size="139" x="1943.9 2065.6">m)</text>
</svg>
</body></html>
